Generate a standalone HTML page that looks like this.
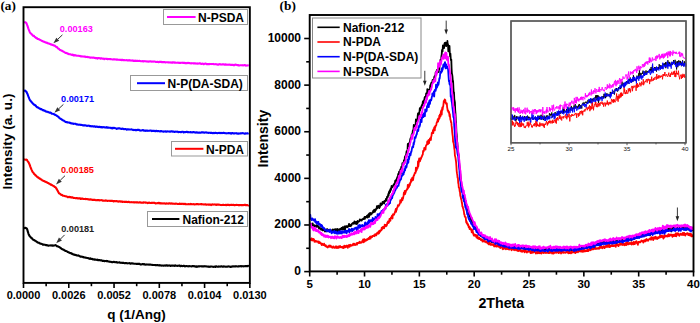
<!DOCTYPE html>
<html><head><meta charset="utf-8"><style>
html,body{margin:0;padding:0;background:#fff;width:700px;height:323px;overflow:hidden}
svg{display:block}
text{font-family:"Liberation Sans",sans-serif}
.serif{font-family:"Liberation Serif",serif}
</style></head><body>
<svg width="700" height="323" viewBox="0 0 700 323">
<defs><clipPath id="clipb"><rect x="310" y="15" width="383.5" height="256.4"/></clipPath></defs>
<rect width="700" height="323" fill="#fff"/>
<text x="0.4" y="10.3" class="serif" font-weight="bold" font-size="13.2">(a)</text>
<polyline points="23.9,22.1 24.3,22.3 24.7,22.3 25.1,22.2 25.5,22.3 25.9,22.7 26.3,23.1 26.7,23.8 27.1,24.9 27.5,25.9 27.9,27.1 28.3,28.3 28.7,29.4 29.1,30.4 29.5,31.4 29.9,32.3 30.3,32.9 30.7,33.3 31.1,33.6 31.5,34.0 31.9,34.5 32.3,34.9 32.7,35.4 33.1,35.9 33.5,35.8 33.9,35.7 34.3,36.3 34.7,36.8 35.1,37.1 35.5,37.4 35.9,37.9 36.3,38.0 36.7,37.9 37.1,38.5 37.5,38.9 37.9,39.0 38.3,39.0 38.7,39.0 39.1,39.3 39.5,39.7 39.9,39.8 40.3,39.9 40.7,40.2 41.1,40.4 41.5,40.6 41.9,40.9 42.3,41.0 42.7,41.2 43.1,41.4 43.5,41.7 43.9,41.8 44.3,41.8 44.7,42.0 45.1,42.2 45.5,42.4 45.9,42.5 46.3,42.7 46.7,42.9 47.1,42.8 47.5,43.0 47.9,43.3 48.3,43.5 48.7,43.5 49.1,43.5 49.5,43.8 49.9,44.0 50.3,44.1 50.7,44.4 51.1,44.3 51.5,44.4 51.9,44.9 52.3,44.9 52.7,44.8 53.1,45.1 53.5,45.4 53.9,45.6 54.3,45.7 54.7,45.6 55.1,45.9 55.5,46.3 55.9,46.6 56.3,47.0 56.7,47.0 57.1,47.2 57.5,47.8 57.9,48.3 58.3,48.5 58.7,48.7 59.1,49.1 59.5,49.5 59.9,49.8 60.3,50.1 60.7,50.2 61.1,50.4 61.5,50.7 61.9,50.7 62.3,50.8 62.7,51.3 63.1,51.3 63.5,51.6 63.9,51.9 64.3,52.1 64.7,52.4 65.1,52.6 65.5,52.9 65.9,53.0 66.3,53.0 66.7,52.9 67.1,53.4 67.5,53.7 67.9,53.6 68.3,53.8 68.7,54.0 69.1,54.2 69.5,54.3 69.9,54.3 70.3,54.3 70.7,54.5 71.1,54.6 71.5,54.7 71.9,55.0 72.3,54.9 72.7,54.5 73.1,54.8 73.5,55.5 73.9,55.4 74.3,55.0 74.7,55.3 75.1,55.4 75.5,55.3 75.9,55.5 76.3,55.6 76.7,55.7 77.1,55.7 77.5,55.8 77.9,55.7 78.3,55.8 78.7,55.8 79.1,55.9 79.5,56.0 79.9,55.9 80.3,56.2 80.7,56.4 81.1,56.3 81.5,56.4 81.9,56.4 82.3,56.4 82.7,56.5 83.1,56.6 83.5,56.5 83.9,56.6 84.3,56.7 84.7,56.6 85.1,56.6 85.5,56.7 85.9,57.1 86.3,57.0 86.7,56.9 87.1,56.8 87.5,56.9 87.9,57.3 88.3,57.3 88.7,57.1 89.1,57.2 89.5,57.4 89.9,57.5 90.3,57.7 90.7,57.7 91.1,57.5 91.5,57.5 91.9,57.6 92.3,57.6 92.7,57.7 93.1,57.7 93.5,57.6 93.9,57.7 94.3,57.9 94.7,57.7 95.1,57.9 95.5,58.2 95.9,58.2 96.3,58.1 96.7,58.0 97.1,58.3 97.5,58.6 97.9,58.2 98.3,58.0 98.7,58.2 99.1,58.1 99.5,58.2 99.9,58.3 100.3,58.5 100.7,58.7 101.1,58.3 101.5,58.2 101.9,58.4 102.3,58.5 102.7,58.8 103.1,58.7 103.5,58.6 103.9,58.8 104.3,59.2 104.7,58.9 105.1,58.7 105.5,58.8 105.9,58.8 106.3,58.8 106.7,59.0 107.1,59.1 107.5,58.9 107.9,59.1 108.3,59.1 108.7,59.0 109.1,59.0 109.5,59.1 109.9,59.1 110.3,59.0 110.7,59.2 111.1,59.2 111.5,59.3 111.9,59.3 112.3,59.4 112.7,59.5 113.1,59.4 113.5,59.4 113.9,59.4 114.3,59.3 114.7,59.5 115.1,59.5 115.5,59.4 115.9,59.6 116.3,59.7 116.7,59.7 117.1,59.4 117.5,59.6 117.9,59.8 118.3,59.7 118.7,59.7 119.1,59.9 119.5,59.7 119.9,59.8 120.3,59.9 120.7,60.0 121.1,59.8 121.5,60.0 121.9,60.2 122.3,59.8 122.7,60.0 123.1,60.1 123.5,60.1 123.9,60.2 124.3,60.1 124.7,60.2 125.1,60.2 125.5,60.2 125.9,60.3 126.3,60.1 126.7,60.2 127.1,60.4 127.5,60.4 127.9,60.3 128.3,60.4 128.7,60.3 129.1,60.1 129.5,60.4 129.9,60.4 130.3,60.4 130.7,60.6 131.1,60.7 131.5,60.6 131.9,60.5 132.3,60.6 132.7,60.4 133.1,60.8 133.5,61.0 133.9,60.6 134.3,60.8 134.7,60.9 135.1,60.6 135.5,60.7 135.9,61.0 136.3,60.9 136.7,60.8 137.1,60.9 137.5,60.9 137.9,60.9 138.3,61.0 138.7,60.9 139.1,60.8 139.5,60.8 139.9,60.9 140.3,61.1 140.7,61.2 141.1,61.2 141.5,61.2 141.9,61.2 142.3,61.1 142.7,61.2 143.1,61.5 143.5,61.4 143.9,61.1 144.3,61.2 144.7,61.2 145.1,61.2 145.5,61.3 145.9,61.3 146.3,61.5 146.7,61.5 147.1,61.4 147.5,61.6 147.9,61.5 148.3,61.6 148.7,61.6 149.1,61.3 149.5,61.4 149.9,61.5 150.3,61.4 150.7,61.4 151.1,61.4 151.5,61.6 151.9,61.8 152.3,61.6 152.7,61.5 153.1,61.5 153.5,61.6 153.9,61.6 154.3,61.5 154.7,61.6 155.1,61.7 155.5,61.8 155.9,62.0 156.3,62.0 156.7,61.9 157.1,61.8 157.5,61.8 157.9,62.0 158.3,62.0 158.7,62.2 159.1,61.9 159.5,61.7 159.9,61.9 160.3,61.9 160.7,61.9 161.1,61.8 161.5,62.0 161.9,62.2 162.3,62.2 162.7,62.0 163.1,62.0 163.5,62.2 163.9,62.2 164.3,62.0 164.7,62.1 165.1,62.3 165.5,62.4 165.9,62.3 166.3,62.3 166.7,62.2 167.1,62.2 167.5,62.3 167.9,62.3 168.3,62.5 168.7,62.4 169.1,62.3 169.5,62.4 169.9,62.5 170.3,62.6 170.7,62.4 171.1,62.4 171.5,62.6 171.9,62.8 172.3,62.5 172.7,62.3 173.1,62.6 173.5,62.5 173.9,62.3 174.3,62.5 174.7,62.8 175.1,62.6 175.5,62.6 175.9,62.7 176.3,62.8 176.7,62.8 177.1,62.8 177.5,62.7 177.9,62.6 178.3,62.7 178.7,62.9 179.1,62.9 179.5,62.8 179.9,62.8 180.3,63.0 180.7,62.9 181.1,62.8 181.5,62.8 181.9,62.7 182.3,62.7 182.7,62.9 183.1,62.8 183.5,62.9 183.9,62.9 184.3,62.7 184.7,62.9 185.1,63.2 185.5,63.0 185.9,62.9 186.3,63.2 186.7,63.2 187.1,63.2 187.5,63.1 187.9,62.7 188.3,62.9 188.7,63.1 189.1,63.0 189.5,63.0 189.9,63.2 190.3,63.4 190.7,63.2 191.1,63.2 191.5,63.4 191.9,63.3 192.3,63.3 192.7,63.3 193.1,63.3 193.5,63.4 193.9,63.3 194.3,63.4 194.7,63.4 195.1,63.3 195.5,63.5 195.9,63.6 196.3,63.5 196.7,63.6 197.1,63.7 197.5,63.5 197.9,63.4 198.3,63.5 198.7,63.6 199.1,63.4 199.5,63.3 199.9,63.4 200.3,63.4 200.7,63.6 201.1,63.9 201.5,63.9 201.9,63.8 202.3,63.7 202.7,63.6 203.1,63.8 203.5,64.1 203.9,64.1 204.3,63.8 204.7,63.7 205.1,63.7 205.5,63.6 205.9,63.7 206.3,63.8 206.7,64.1 207.1,64.1 207.5,64.0 207.9,64.2 208.3,64.1 208.7,64.1 209.1,64.2 209.5,64.0 209.9,63.9 210.3,64.0 210.7,64.0 211.1,64.0 211.5,64.0 211.9,64.1 212.3,64.0 212.7,64.0 213.1,63.9 213.5,64.0 213.9,64.2 214.3,64.2 214.7,64.2 215.1,64.3 215.5,64.2 215.9,64.1 216.3,64.3 216.7,64.4 217.1,64.4 217.5,64.6 217.9,64.6 218.3,64.4 218.7,64.6 219.1,64.5 219.5,64.2 219.9,64.1 220.3,64.3 220.7,64.5 221.1,64.6 221.5,64.5 221.9,64.4 222.3,64.5 222.7,64.3 223.1,64.3 223.5,64.5 223.9,64.4 224.3,64.6 224.7,64.6 225.1,64.3 225.5,64.3 225.9,64.6 226.3,64.6 226.7,64.6 227.1,64.8 227.5,64.8 227.9,64.6 228.3,64.5 228.7,64.8 229.1,64.8 229.5,64.5 229.9,64.6 230.3,64.8 230.7,64.9 231.1,64.9 231.5,64.8 231.9,64.8 232.3,65.0 232.7,64.7 233.1,64.9 233.5,65.3 233.9,65.1 234.3,64.8 234.7,65.1 235.1,64.9 235.5,64.6 235.9,64.6 236.3,64.8 236.7,64.9 237.1,65.0 237.5,65.2 237.9,65.0 238.3,65.0 238.7,65.4 239.1,65.5 239.5,65.4 239.9,65.3 240.3,65.3 240.7,65.2 241.1,65.2 241.5,65.3 241.9,65.3 242.3,65.4 242.7,65.2 243.1,65.2 243.5,65.4 243.9,65.3 244.3,65.1 244.7,65.2 245.1,65.1 245.5,65.3 245.9,65.6 246.3,65.6 246.7,65.5 247.1,65.4 247.5,65.5 247.9,65.4 248.3,65.5 248.7,65.7" fill="none" stroke="#ff00ff" stroke-width="2.1" stroke-linejoin="round" />
<polyline points="23.9,90.8 24.3,90.8 24.7,90.7 25.1,90.6 25.5,90.9 25.9,91.5 26.3,91.7 26.7,92.3 27.1,93.2 27.5,94.0 27.9,95.1 28.3,96.2 28.7,97.2 29.1,98.1 29.5,99.1 29.9,100.0 30.3,100.6 30.7,101.0 31.1,101.5 31.5,101.9 31.9,102.4 32.3,103.0 32.7,103.3 33.1,103.8 33.5,104.0 33.9,104.4 34.3,105.1 34.7,105.2 35.1,105.1 35.5,105.4 35.9,106.0 36.3,106.5 36.7,106.8 37.1,107.2 37.5,107.3 37.9,107.5 38.3,107.7 38.7,108.0 39.1,108.2 39.5,108.2 39.9,108.6 40.3,109.1 40.7,109.1 41.1,109.0 41.5,109.2 41.9,109.6 42.3,109.8 42.7,110.1 43.1,110.0 43.5,110.2 43.9,110.7 44.3,110.5 44.7,110.6 45.1,111.0 45.5,111.2 45.9,111.3 46.3,111.7 46.7,111.8 47.1,111.7 47.5,111.7 47.9,112.0 48.3,112.2 48.7,112.3 49.1,112.4 49.5,112.7 49.9,112.7 50.3,112.6 50.7,112.6 51.1,113.1 51.5,113.5 51.9,113.7 52.3,113.8 52.7,113.7 53.1,113.9 53.5,114.1 53.9,114.1 54.3,114.2 54.7,114.7 55.1,115.0 55.5,115.1 55.9,115.2 56.3,115.4 56.7,115.7 57.1,116.1 57.5,116.2 57.9,116.5 58.3,116.8 58.7,117.1 59.1,117.7 59.5,117.9 59.9,118.3 60.3,118.6 60.7,118.8 61.1,119.1 61.5,119.3 61.9,119.7 62.3,120.0 62.7,120.2 63.1,120.4 63.5,120.6 63.9,120.7 64.3,121.0 64.7,121.4 65.1,121.6 65.5,121.8 65.9,122.1 66.3,122.2 66.7,122.0 67.1,122.3 67.5,122.4 67.9,122.4 68.3,122.5 68.7,122.5 69.1,122.5 69.5,122.7 69.9,123.0 70.3,122.9 70.7,123.2 71.1,123.5 71.5,123.4 71.9,123.3 72.3,123.4 72.7,123.5 73.1,123.7 73.5,123.9 73.9,123.8 74.3,123.7 74.7,123.8 75.1,123.8 75.5,123.8 75.9,124.0 76.3,124.3 76.7,124.5 77.1,124.4 77.5,124.4 77.9,124.5 78.3,124.7 78.7,124.8 79.1,124.7 79.5,124.7 79.9,124.6 80.3,124.8 80.7,124.9 81.1,124.9 81.5,124.9 81.9,125.0 82.3,125.1 82.7,125.3 83.1,125.4 83.5,125.4 83.9,125.3 84.3,125.3 84.7,125.4 85.1,125.3 85.5,125.5 85.9,125.5 86.3,125.6 86.7,125.8 87.1,125.9 87.5,125.8 87.9,125.7 88.3,125.6 88.7,125.8 89.1,125.7 89.5,125.8 89.9,126.1 90.3,126.0 90.7,126.2 91.1,126.4 91.5,126.3 91.9,126.2 92.3,126.2 92.7,126.4 93.1,126.3 93.5,126.4 93.9,126.6 94.3,126.3 94.7,126.3 95.1,126.4 95.5,126.6 95.9,126.9 96.3,126.7 96.7,126.5 97.1,126.7 97.5,126.8 97.9,127.0 98.3,127.1 98.7,126.9 99.1,127.0 99.5,126.8 99.9,126.8 100.3,127.2 100.7,127.1 101.1,127.0 101.5,127.1 101.9,127.4 102.3,127.4 102.7,127.1 103.1,127.3 103.5,127.2 103.9,127.1 104.3,127.3 104.7,127.4 105.1,127.4 105.5,127.5 105.9,127.6 106.3,127.3 106.7,127.1 107.1,127.3 107.5,127.7 107.9,127.8 108.3,127.6 108.7,127.6 109.1,127.7 109.5,127.8 109.9,127.8 110.3,127.7 110.7,127.8 111.1,128.1 111.5,127.9 111.9,128.0 112.3,128.3 112.7,128.0 113.1,127.7 113.5,127.9 113.9,128.2 114.3,128.1 114.7,127.9 115.1,128.1 115.5,128.3 115.9,128.2 116.3,128.6 116.7,128.9 117.1,128.7 117.5,128.5 117.9,128.5 118.3,128.3 118.7,128.3 119.1,128.5 119.5,128.4 119.9,128.4 120.3,128.6 120.7,128.8 121.1,128.8 121.5,129.0 121.9,128.9 122.3,128.7 122.7,128.6 123.1,128.8 123.5,129.1 123.9,129.2 124.3,129.2 124.7,129.1 125.1,129.0 125.5,129.1 125.9,129.1 126.3,129.4 126.7,129.7 127.1,129.4 127.5,129.3 127.9,129.4 128.3,129.3 128.7,129.4 129.1,129.5 129.5,129.4 129.9,129.5 130.3,129.5 130.7,129.5 131.1,129.4 131.5,129.4 131.9,129.6 132.3,129.7 132.7,129.8 133.1,130.0 133.5,130.1 133.9,129.9 134.3,130.0 134.7,129.9 135.1,130.0 135.5,130.2 135.9,129.9 136.3,130.0 136.7,130.2 137.1,129.9 137.5,129.7 137.9,130.0 138.3,129.9 138.7,129.8 139.1,130.0 139.5,130.2 139.9,130.3 140.3,130.6 140.7,130.5 141.1,130.4 141.5,130.5 141.9,130.4 142.3,130.3 142.7,130.0 143.1,130.1 143.5,130.4 143.9,130.7 144.3,130.7 144.7,130.6 145.1,130.5 145.5,130.6 145.9,130.9 146.3,130.7 146.7,130.5 147.1,130.5 147.5,130.7 147.9,130.9 148.3,130.7 148.7,130.7 149.1,130.8 149.5,130.7 149.9,130.6 150.3,130.5 150.7,130.5 151.1,130.7 151.5,131.1 151.9,130.9 152.3,130.7 152.7,131.0 153.1,130.8 153.5,130.8 153.9,130.8 154.3,131.0 154.7,131.1 155.1,130.9 155.5,131.1 155.9,131.1 156.3,130.8 156.7,130.8 157.1,131.1 157.5,131.2 157.9,131.1 158.3,131.0 158.7,131.0 159.1,131.3 159.5,131.3 159.9,131.4 160.3,131.4 160.7,131.1 161.1,131.0 161.5,131.2 161.9,131.4 162.3,131.4 162.7,131.5 163.1,131.6 163.5,131.7 163.9,131.5 164.3,131.4 164.7,131.5 165.1,131.4 165.5,131.4 165.9,131.7 166.3,131.7 166.7,131.5 167.1,131.5 167.5,131.4 167.9,131.4 168.3,131.5 168.7,131.5 169.1,131.5 169.5,131.5 169.9,131.7 170.3,131.6 170.7,131.6 171.1,131.5 171.5,131.2 171.9,131.4 172.3,131.6 172.7,131.7 173.1,131.5 173.5,131.5 173.9,131.7 174.3,131.9 174.7,131.9 175.1,131.8 175.5,131.7 175.9,131.6 176.3,131.7 176.7,131.8 177.1,131.8 177.5,131.6 177.9,131.8 178.3,132.1 178.7,132.1 179.1,132.0 179.5,131.9 179.9,132.0 180.3,132.1 180.7,132.2 181.1,132.2 181.5,131.9 181.9,131.8 182.3,131.8 182.7,131.7 183.1,132.0 183.5,132.3 183.9,132.0 184.3,132.1 184.7,132.3 185.1,132.0 185.5,132.0 185.9,132.1 186.3,132.0 186.7,131.8 187.1,131.9 187.5,132.2 187.9,131.9 188.3,132.0 188.7,132.3 189.1,132.2 189.5,132.2 189.9,132.2 190.3,132.1 190.7,132.1 191.1,132.4 191.5,132.3 191.9,132.2 192.3,132.4 192.7,132.3 193.1,132.2 193.5,132.1 193.9,132.1 194.3,132.3 194.7,132.4 195.1,132.3 195.5,132.6 195.9,132.7 196.3,132.4 196.7,132.4 197.1,132.4 197.5,132.6 197.9,132.6 198.3,132.6 198.7,132.8 199.1,132.5 199.5,132.5 199.9,132.6 200.3,132.8 200.7,132.8 201.1,132.4 201.5,132.3 201.9,132.2 202.3,132.4 202.7,132.4 203.1,132.4 203.5,132.4 203.9,132.5 204.3,132.8 204.7,132.6 205.1,132.4 205.5,132.5 205.9,132.4 206.3,132.4 206.7,132.5 207.1,132.7 207.5,132.8 207.9,132.7 208.3,132.8 208.7,132.9 209.1,132.8 209.5,132.8 209.9,132.8 210.3,132.8 210.7,133.0 211.1,132.8 211.5,132.7 211.9,132.9 212.3,133.1 212.7,133.2 213.1,133.2 213.5,132.9 213.9,133.0 214.3,132.9 214.7,133.1 215.1,132.9 215.5,132.8 215.9,133.0 216.3,133.0 216.7,133.1 217.1,133.2 217.5,133.2 217.9,133.1 218.3,133.0 218.7,132.9 219.1,132.8 219.5,132.9 219.9,133.1 220.3,133.1 220.7,132.9 221.1,133.0 221.5,133.1 221.9,132.9 222.3,133.0 222.7,133.1 223.1,132.9 223.5,132.7 223.9,133.0 224.3,133.1 224.7,133.0 225.1,133.0 225.5,133.3 225.9,133.3 226.3,133.2 226.7,133.4 227.1,133.2 227.5,133.2 227.9,133.2 228.3,133.1 228.7,133.0 229.1,133.2 229.5,133.3 229.9,133.1 230.3,133.1 230.7,133.3 231.1,133.6 231.5,133.3 231.9,133.2 232.3,133.0 232.7,133.2 233.1,133.4 233.5,133.2 233.9,133.3 234.3,133.5 234.7,133.3 235.1,133.2 235.5,133.2 235.9,133.3 236.3,133.4 236.7,133.2 237.1,133.4 237.5,133.6 237.9,133.6 238.3,133.7 238.7,133.5 239.1,133.4 239.5,133.5 239.9,133.6 240.3,133.5 240.7,133.3 241.1,133.4 241.5,133.3 241.9,133.3 242.3,133.1 242.7,133.2 243.1,133.3 243.5,133.3 243.9,133.4 244.3,133.5 244.7,133.7 245.1,133.7 245.5,133.3 245.9,133.3 246.3,133.4 246.7,133.5 247.1,133.5 247.5,133.3 247.9,133.4 248.3,133.4 248.7,133.2" fill="none" stroke="#0000ff" stroke-width="2.1" stroke-linejoin="round" />
<polyline points="23.9,159.9 24.3,159.6 24.7,159.5 25.1,159.7 25.5,159.7 25.9,159.8 26.3,159.6 26.7,159.7 27.1,160.1 27.5,160.9 27.9,161.6 28.3,161.9 28.7,162.6 29.1,163.5 29.5,164.3 29.9,165.4 30.3,166.6 30.7,167.6 31.1,168.6 31.5,169.6 31.9,170.4 32.3,171.4 32.7,172.1 33.1,172.4 33.5,172.9 33.9,173.5 34.3,174.2 34.7,174.5 35.1,174.7 35.5,175.3 35.9,175.6 36.3,175.8 36.7,176.4 37.1,176.9 37.5,177.1 37.9,177.5 38.3,177.4 38.7,177.8 39.1,178.3 39.5,178.2 39.9,178.6 40.3,179.2 40.7,179.3 41.1,179.3 41.5,179.6 41.9,180.0 42.3,180.3 42.7,180.6 43.1,180.7 43.5,181.0 43.9,181.1 44.3,181.1 44.7,181.4 45.1,181.7 45.5,181.9 45.9,181.9 46.3,182.2 46.7,182.2 47.1,182.4 47.5,183.0 47.9,183.0 48.3,183.1 48.7,183.4 49.1,183.7 49.5,183.8 49.9,183.8 50.3,184.3 50.7,184.7 51.1,184.6 51.5,184.6 51.9,185.1 52.3,185.3 52.7,185.6 53.1,185.8 53.5,185.9 53.9,186.2 54.3,186.6 54.7,187.0 55.1,187.1 55.5,187.2 55.9,187.8 56.3,188.5 56.7,189.0 57.1,189.8 57.5,190.6 57.9,191.3 58.3,192.0 58.7,192.7 59.1,193.4 59.5,193.6 59.9,193.7 60.3,194.1 60.7,194.5 61.1,194.8 61.5,194.9 61.9,194.8 62.3,195.1 62.7,195.6 63.1,195.8 63.5,195.8 63.9,195.8 64.3,195.9 64.7,196.1 65.1,196.2 65.5,196.3 65.9,196.3 66.3,196.5 66.7,196.6 67.1,196.7 67.5,197.0 67.9,197.3 68.3,197.2 68.7,196.9 69.1,196.8 69.5,197.0 69.9,197.2 70.3,197.0 70.7,197.2 71.1,197.6 71.5,197.4 71.9,197.2 72.3,197.3 72.7,197.5 73.1,197.7 73.5,198.0 73.9,198.0 74.3,197.9 74.7,198.0 75.1,198.1 75.5,198.2 75.9,198.3 76.3,198.1 76.7,198.0 77.1,198.1 77.5,198.3 77.9,198.5 78.3,198.4 78.7,198.3 79.1,198.4 79.5,198.4 79.9,198.3 80.3,198.5 80.7,198.9 81.1,198.9 81.5,198.6 81.9,198.5 82.3,198.5 82.7,198.7 83.1,199.0 83.5,199.0 83.9,198.9 84.3,199.0 84.7,199.0 85.1,198.9 85.5,198.8 85.9,199.1 86.3,199.1 86.7,199.0 87.1,199.1 87.5,199.1 87.9,199.3 88.3,199.4 88.7,199.3 89.1,199.4 89.5,199.6 89.9,199.7 90.3,199.4 90.7,199.4 91.1,199.6 91.5,199.5 91.9,199.7 92.3,199.9 92.7,199.9 93.1,199.8 93.5,199.9 93.9,199.9 94.3,199.8 94.7,199.9 95.1,199.9 95.5,200.1 95.9,200.3 96.3,200.3 96.7,200.2 97.1,200.0 97.5,200.0 97.9,200.2 98.3,200.1 98.7,200.1 99.1,200.2 99.5,200.4 99.9,200.3 100.3,200.3 100.7,200.3 101.1,200.1 101.5,200.2 101.9,200.2 102.3,200.3 102.7,200.6 103.1,200.6 103.5,200.6 103.9,200.8 104.3,200.8 104.7,200.6 105.1,200.6 105.5,200.4 105.9,200.6 106.3,200.6 106.7,200.6 107.1,200.8 107.5,200.9 107.9,200.9 108.3,200.7 108.7,200.8 109.1,200.8 109.5,200.8 109.9,200.9 110.3,200.9 110.7,200.9 111.1,200.9 111.5,200.9 111.9,200.8 112.3,200.8 112.7,200.9 113.1,201.1 113.5,201.4 113.9,201.1 114.3,201.0 114.7,201.2 115.1,201.1 115.5,201.2 115.9,201.3 116.3,201.0 116.7,201.1 117.1,201.3 117.5,201.4 117.9,201.3 118.3,201.3 118.7,201.6 119.1,201.4 119.5,201.3 119.9,201.4 120.3,201.4 120.7,201.7 121.1,201.8 121.5,201.5 121.9,201.4 122.3,201.5 122.7,201.9 123.1,201.9 123.5,201.7 123.9,201.8 124.3,201.8 124.7,202.0 125.1,202.0 125.5,201.8 125.9,201.9 126.3,201.9 126.7,201.8 127.1,201.9 127.5,202.1 127.9,201.9 128.3,201.8 128.7,201.8 129.1,202.0 129.5,202.2 129.9,202.2 130.3,202.2 130.7,202.3 131.1,202.1 131.5,202.2 131.9,202.3 132.3,202.2 132.7,202.2 133.1,202.4 133.5,202.3 133.9,202.2 134.3,202.3 134.7,202.5 135.1,202.4 135.5,202.2 135.9,202.3 136.3,202.4 136.7,202.3 137.1,202.2 137.5,202.5 137.9,202.4 138.3,202.5 138.7,202.6 139.1,202.4 139.5,202.4 139.9,202.3 140.3,202.2 140.7,202.6 141.1,202.6 141.5,202.6 141.9,202.8 142.3,202.7 142.7,202.7 143.1,202.4 143.5,202.3 143.9,202.6 144.3,202.5 144.7,202.4 145.1,202.6 145.5,202.7 145.9,202.5 146.3,202.5 146.7,202.8 147.1,202.8 147.5,202.8 147.9,203.1 148.3,203.0 148.7,202.7 149.1,202.6 149.5,202.7 149.9,203.0 150.3,203.0 150.7,203.0 151.1,202.9 151.5,202.9 151.9,202.9 152.3,202.9 152.7,202.8 153.1,202.7 153.5,202.8 153.9,202.9 154.3,202.8 154.7,203.0 155.1,203.1 155.5,203.4 155.9,203.5 156.3,203.2 156.7,203.2 157.1,203.3 157.5,203.1 157.9,203.2 158.3,203.2 158.7,202.8 159.1,203.0 159.5,203.3 159.9,203.4 160.3,203.4 160.7,203.1 161.1,203.3 161.5,203.4 161.9,203.2 162.3,203.5 162.7,203.5 163.1,203.4 163.5,203.4 163.9,203.5 164.3,203.4 164.7,203.4 165.1,203.6 165.5,203.8 165.9,203.7 166.3,203.3 166.7,203.4 167.1,203.5 167.5,203.5 167.9,203.5 168.3,203.7 168.7,203.6 169.1,203.4 169.5,203.2 169.9,203.2 170.3,203.6 170.7,203.7 171.1,203.4 171.5,203.4 171.9,203.5 172.3,203.7 172.7,203.5 173.1,203.6 173.5,203.8 173.9,203.8 174.3,203.7 174.7,203.8 175.1,203.9 175.5,203.7 175.9,203.6 176.3,203.6 176.7,203.8 177.1,203.8 177.5,203.9 177.9,204.0 178.3,204.0 178.7,204.0 179.1,203.9 179.5,203.6 179.9,203.6 180.3,204.0 180.7,204.0 181.1,203.9 181.5,203.9 181.9,203.8 182.3,203.7 182.7,203.9 183.1,204.1 183.5,203.9 183.9,203.7 184.3,203.8 184.7,204.1 185.1,204.2 185.5,203.9 185.9,204.1 186.3,204.3 186.7,204.3 187.1,204.2 187.5,204.2 187.9,204.2 188.3,204.2 188.7,204.1 189.1,204.1 189.5,204.3 189.9,204.3 190.3,204.1 190.7,203.9 191.1,204.3 191.5,204.2 191.9,204.1 192.3,204.3 192.7,204.3 193.1,204.2 193.5,204.1 193.9,204.3 194.3,204.4 194.7,204.4 195.1,204.2 195.5,204.2 195.9,204.4 196.3,204.2 196.7,204.0 197.1,204.1 197.5,204.2 197.9,204.1 198.3,204.2 198.7,204.4 199.1,204.2 199.5,204.3 199.9,204.2 200.3,204.2 200.7,204.2 201.1,204.0 201.5,204.3 201.9,204.4 202.3,204.2 202.7,204.2 203.1,204.4 203.5,204.5 203.9,204.4 204.3,204.5 204.7,204.5 205.1,204.3 205.5,204.3 205.9,204.5 206.3,204.7 206.7,204.7 207.1,204.6 207.5,204.5 207.9,204.6 208.3,204.6 208.7,204.6 209.1,204.7 209.5,204.5 209.9,204.5 210.3,204.5 210.7,204.7 211.1,205.1 211.5,204.9 211.9,204.6 212.3,204.3 212.7,204.4 213.1,204.6 213.5,204.5 213.9,204.6 214.3,204.5 214.7,204.4 215.1,204.6 215.5,204.5 215.9,204.6 216.3,204.9 216.7,204.6 217.1,204.4 217.5,204.6 217.9,204.8 218.3,204.6 218.7,204.5 219.1,204.7 219.5,204.7 219.9,204.8 220.3,204.9 220.7,205.0 221.1,205.1 221.5,205.0 221.9,205.0 222.3,205.0 222.7,205.0 223.1,204.7 223.5,204.8 223.9,204.9 224.3,205.0 224.7,205.0 225.1,204.9 225.5,204.9 225.9,205.1 226.3,205.1 226.7,204.8 227.1,204.9 227.5,204.8 227.9,204.8 228.3,204.9 228.7,204.9 229.1,205.1 229.5,205.1 229.9,204.9 230.3,204.9 230.7,205.0 231.1,204.9 231.5,204.7 231.9,204.8 232.3,205.0 232.7,205.0 233.1,204.9 233.5,204.8 233.9,204.9 234.3,205.2 234.7,205.2 235.1,205.0 235.5,205.0 235.9,204.9 236.3,204.8 236.7,204.9 237.1,205.0 237.5,205.0 237.9,204.9 238.3,205.0 238.7,205.3 239.1,205.2 239.5,205.0 239.9,205.1 240.3,205.1 240.7,205.0 241.1,205.0 241.5,205.2 241.9,205.1 242.3,205.2 242.7,205.0 243.1,205.0 243.5,205.1 243.9,205.1 244.3,204.9 244.7,205.0 245.1,204.8 245.5,205.0 245.9,205.3 246.3,205.1 246.7,205.2 247.1,205.1 247.5,205.0 247.9,205.3 248.3,205.4 248.7,205.0" fill="none" stroke="#ff0000" stroke-width="2.1" stroke-linejoin="round" />
<polyline points="23.7,227.8 24.1,227.8 24.5,228.1 24.9,228.2 25.3,227.9 25.7,227.9 26.1,228.1 26.5,228.3 26.9,228.7 27.3,229.7 27.7,231.1 28.1,232.5 28.5,233.8 28.9,234.8 29.3,235.4 29.7,236.2 30.1,236.6 30.5,237.0 30.9,237.6 31.3,237.8 31.7,238.1 32.1,238.5 32.5,239.0 32.9,239.4 33.3,239.8 33.7,239.9 34.1,240.0 34.5,240.4 34.9,240.7 35.3,240.8 35.7,240.9 36.1,241.4 36.5,241.5 36.9,241.8 37.3,242.2 37.7,242.4 38.1,242.7 38.5,242.7 38.9,242.7 39.3,243.0 39.7,243.4 40.1,243.6 40.5,243.6 40.9,243.6 41.3,243.8 41.7,243.9 42.1,244.1 42.5,244.3 42.9,244.7 43.3,244.7 43.7,244.5 44.1,244.7 44.5,244.7 44.9,244.7 45.3,244.9 45.7,245.1 46.1,245.0 46.5,245.2 46.9,245.4 47.3,245.3 47.7,245.5 48.1,245.6 48.5,245.6 48.9,245.6 49.3,245.5 49.7,245.5 50.1,245.4 50.5,245.5 50.9,245.5 51.3,245.3 51.7,245.6 52.1,245.7 52.5,245.4 52.9,245.6 53.3,245.7 53.7,245.6 54.1,245.5 54.5,245.4 54.9,245.3 55.3,245.1 55.7,245.2 56.1,245.5 56.5,245.8 56.9,246.2 57.3,246.2 57.7,246.3 58.1,246.6 58.5,246.7 58.9,246.9 59.3,247.0 59.7,247.3 60.1,247.6 60.5,247.9 60.9,248.2 61.3,248.6 61.7,248.9 62.1,249.0 62.5,249.3 62.9,249.5 63.3,249.6 63.7,249.8 64.1,250.0 64.5,250.3 64.9,250.6 65.3,250.8 65.7,251.0 66.1,251.1 66.5,251.2 66.9,251.4 67.3,251.6 67.7,252.0 68.1,252.1 68.5,252.3 68.9,252.5 69.3,252.6 69.7,252.9 70.1,253.1 70.5,253.0 70.9,253.2 71.3,253.2 71.7,253.5 72.1,253.9 72.5,253.8 72.9,254.2 73.3,254.6 73.7,254.5 74.1,254.5 74.5,254.7 74.9,255.0 75.3,255.0 75.7,254.9 76.1,255.2 76.5,255.4 76.9,255.4 77.3,255.6 77.7,255.5 78.1,255.5 78.5,255.4 78.9,255.6 79.3,256.2 79.7,256.2 80.1,256.3 80.5,256.6 80.9,256.6 81.3,256.6 81.7,256.7 82.1,256.7 82.5,256.8 82.9,257.0 83.3,257.2 83.7,257.4 84.1,257.3 84.5,257.4 84.9,257.5 85.3,257.5 85.7,257.7 86.1,257.8 86.5,257.8 86.9,257.9 87.3,258.0 87.7,258.0 88.1,258.1 88.5,258.4 88.9,258.5 89.3,258.6 89.7,258.8 90.1,258.3 90.5,258.3 90.9,258.9 91.3,259.0 91.7,258.9 92.1,258.8 92.5,259.1 92.9,259.4 93.3,259.4 93.7,259.4 94.1,259.6 94.5,259.7 94.9,259.4 95.3,259.5 95.7,259.7 96.1,259.7 96.5,259.8 96.9,259.9 97.3,259.6 97.7,259.8 98.1,260.3 98.5,260.2 98.9,260.1 99.3,260.2 99.7,260.1 100.1,260.2 100.5,260.4 100.9,260.4 101.3,260.4 101.7,260.4 102.1,260.7 102.5,261.0 102.9,260.9 103.3,260.8 103.7,260.7 104.1,260.9 104.5,261.2 104.9,261.0 105.3,261.0 105.7,261.0 106.1,260.9 106.5,261.2 106.9,261.2 107.3,261.0 107.7,261.2 108.1,261.5 108.5,261.5 108.9,261.6 109.3,261.6 109.7,261.7 110.1,261.9 110.5,261.7 110.9,261.8 111.3,261.9 111.7,262.1 112.1,262.3 112.5,262.2 112.9,262.0 113.3,261.9 113.7,261.8 114.1,262.0 114.5,262.1 114.9,262.1 115.3,262.2 115.7,262.3 116.1,262.2 116.5,262.0 116.9,262.3 117.3,262.6 117.7,262.4 118.1,262.5 118.5,262.5 118.9,262.4 119.3,262.3 119.7,262.5 120.1,262.7 120.5,262.7 120.9,262.9 121.3,262.8 121.7,262.7 122.1,262.9 122.5,262.9 122.9,262.8 123.3,262.8 123.7,263.0 124.1,263.1 124.5,263.2 124.9,263.2 125.3,263.1 125.7,263.1 126.1,263.0 126.5,263.1 126.9,263.3 127.3,263.4 127.7,263.2 128.1,263.2 128.5,263.3 128.9,263.2 129.3,263.2 129.7,263.1 130.1,263.5 130.5,263.7 130.9,263.5 131.3,263.4 131.7,263.2 132.1,263.3 132.5,263.5 132.9,263.6 133.3,263.5 133.7,263.5 134.1,263.8 134.5,263.7 134.9,263.7 135.3,263.7 135.7,263.7 136.1,263.8 136.5,264.0 136.9,263.9 137.3,263.8 137.7,264.0 138.1,263.9 138.5,263.8 138.9,263.9 139.3,263.8 139.7,264.0 140.1,264.2 140.5,264.5 140.9,264.6 141.3,264.4 141.7,264.3 142.1,264.1 142.5,264.2 142.9,264.0 143.3,264.2 143.7,264.4 144.1,264.1 144.5,264.2 144.9,264.4 145.3,264.7 145.7,264.6 146.1,264.5 146.5,264.6 146.9,264.4 147.3,264.5 147.7,264.6 148.1,264.5 148.5,264.6 148.9,264.6 149.3,264.6 149.7,264.6 150.1,264.5 150.5,264.6 150.9,264.8 151.3,264.8 151.7,264.7 152.1,265.0 152.5,265.0 152.9,264.9 153.3,265.0 153.7,265.0 154.1,265.0 154.5,265.0 154.9,265.1 155.3,265.2 155.7,265.0 156.1,265.2 156.5,265.3 156.9,265.1 157.3,265.1 157.7,265.1 158.1,265.2 158.5,265.3 158.9,265.4 159.3,265.3 159.7,265.1 160.1,265.4 160.5,265.5 160.9,265.4 161.3,265.6 161.7,265.6 162.1,265.5 162.5,265.5 162.9,265.6 163.3,265.8 163.7,265.5 164.1,265.5 164.5,265.4 164.9,265.5 165.3,265.7 165.7,265.6 166.1,265.5 166.5,265.3 166.9,265.5 167.3,265.7 167.7,265.6 168.1,265.7 168.5,265.6 168.9,265.5 169.3,265.5 169.7,265.4 170.1,265.8 170.5,265.9 170.9,265.6 171.3,265.8 171.7,265.5 172.1,265.4 172.5,265.8 172.9,265.7 173.3,265.7 173.7,265.6 174.1,265.6 174.5,265.9 174.9,265.7 175.3,265.4 175.7,265.7 176.1,265.8 176.5,265.8 176.9,265.8 177.3,265.9 177.7,265.8 178.1,265.7 178.5,265.8 178.9,265.5 179.3,265.4 179.7,265.8 180.1,266.0 180.5,266.2 180.9,266.0 181.3,265.8 181.7,266.0 182.1,266.0 182.5,266.1 182.9,266.1 183.3,266.0 183.7,265.7 184.1,265.7 184.5,266.2 184.9,266.4 185.3,266.3 185.7,266.2 186.1,266.0 186.5,266.0 186.9,266.1 187.3,266.2 187.7,266.2 188.1,266.4 188.5,266.3 188.9,266.2 189.3,266.1 189.7,266.2 190.1,266.3 190.5,266.2 190.9,266.2 191.3,266.4 191.7,266.4 192.1,266.2 192.5,266.1 192.9,266.2 193.3,266.2 193.7,266.1 194.1,266.2 194.5,266.4 194.9,266.3 195.3,266.3 195.7,266.6 196.1,266.4 196.5,266.3 196.9,266.8 197.3,266.5 197.7,266.4 198.1,266.3 198.5,266.3 198.9,266.4 199.3,266.4 199.7,266.3 200.1,266.2 200.5,266.3 200.9,266.3 201.3,266.3 201.7,266.4 202.1,266.3 202.5,266.3 202.9,266.5 203.3,266.3 203.7,266.2 204.1,266.4 204.5,266.3 204.9,266.2 205.3,266.2 205.7,266.3 206.1,266.5 206.5,266.4 206.9,266.5 207.3,266.5 207.7,266.5 208.1,266.7 208.5,266.5 208.9,266.5 209.3,266.9 209.7,266.7 210.1,266.6 210.5,266.6 210.9,266.6 211.3,266.5 211.7,266.5 212.1,266.6 212.5,266.8 212.9,266.7 213.3,266.8 213.7,266.9 214.1,266.8 214.5,266.6 214.9,266.7 215.3,267.0 215.7,266.5 216.1,266.2 216.5,266.4 216.9,266.6 217.3,266.8 217.7,266.7 218.1,266.6 218.5,266.7 218.9,266.5 219.3,266.5 219.7,266.6 220.1,266.6 220.5,266.6 220.9,266.5 221.3,266.3 221.7,266.5 222.1,266.6 222.5,266.6 222.9,266.7 223.3,266.7 223.7,266.4 224.1,266.4 224.5,266.5 224.9,266.5 225.3,266.7 225.7,266.8 226.1,266.7 226.5,266.7 226.9,266.6 227.3,266.6 227.7,266.6 228.1,266.5 228.5,266.4 228.9,266.4 229.3,266.5 229.7,266.5 230.1,266.8 230.5,267.0 230.9,266.9 231.3,266.6 231.7,266.6 232.1,266.6 232.5,266.4 232.9,266.4 233.3,266.4 233.7,266.4 234.1,266.5 234.5,266.5 234.9,266.3 235.3,266.5 235.7,266.4 236.1,266.2 236.5,266.2 236.9,266.4 237.3,266.5 237.7,266.5 238.1,266.4 238.5,266.2 238.9,266.4 239.3,266.3 239.7,266.2 240.1,266.2 240.5,266.1 240.9,266.3 241.3,266.4 241.7,266.1 242.1,266.1 242.5,266.3 242.9,266.2 243.3,266.4 243.7,266.3 244.1,266.1 244.5,266.3 244.9,266.3 245.3,266.1 245.7,266.1 246.1,266.2 246.5,266.0 246.9,266.2 247.3,266.3 247.7,265.9 248.1,265.8 248.5,266.2 248.9,266.5" fill="none" stroke="#000000" stroke-width="2.1" stroke-linejoin="round" />
<rect x="23.5" y="7.2" width="226.35" height="275.7" fill="none" stroke="#000" stroke-width="1.9"/>
<line x1="23.50" y1="282.9" x2="23.50" y2="288" stroke="#000" stroke-width="1.6"/>
<line x1="46.14" y1="282.9" x2="46.14" y2="286.2" stroke="#000" stroke-width="1.6"/>
<line x1="68.77" y1="282.9" x2="68.77" y2="288" stroke="#000" stroke-width="1.6"/>
<line x1="91.41" y1="282.9" x2="91.41" y2="286.2" stroke="#000" stroke-width="1.6"/>
<line x1="114.04" y1="282.9" x2="114.04" y2="288" stroke="#000" stroke-width="1.6"/>
<line x1="136.68" y1="282.9" x2="136.68" y2="286.2" stroke="#000" stroke-width="1.6"/>
<line x1="159.31" y1="282.9" x2="159.31" y2="288" stroke="#000" stroke-width="1.6"/>
<line x1="181.94" y1="282.9" x2="181.94" y2="286.2" stroke="#000" stroke-width="1.6"/>
<line x1="204.58" y1="282.9" x2="204.58" y2="288" stroke="#000" stroke-width="1.6"/>
<line x1="227.22" y1="282.9" x2="227.22" y2="286.2" stroke="#000" stroke-width="1.6"/>
<line x1="249.85" y1="282.9" x2="249.85" y2="288" stroke="#000" stroke-width="1.6"/>
<text x="23.50" y="299" text-anchor="middle" font-size="11" font-weight="bold">0.0000</text>
<text x="68.77" y="299" text-anchor="middle" font-size="11" font-weight="bold">0.0026</text>
<text x="114.04" y="299" text-anchor="middle" font-size="11" font-weight="bold">0.0052</text>
<text x="159.31" y="299" text-anchor="middle" font-size="11" font-weight="bold">0.0078</text>
<text x="204.58" y="299" text-anchor="middle" font-size="11" font-weight="bold">0.0104</text>
<text x="249.85" y="299" text-anchor="middle" font-size="11" font-weight="bold">0.0130</text>
<text x="136.5" y="319" text-anchor="middle" font-size="13.5" font-weight="bold">q (1/Ang)</text>
<text transform="translate(12.3,141.5) rotate(-90)" text-anchor="middle" font-size="13.6" font-weight="bold">Intensity (a. u.)</text>
<rect x="163.5" y="9.5" width="84.0" height="15.0" fill="#fff" stroke="#999" stroke-width="1"/>
<line x1="167" y1="17" x2="195.6" y2="17" stroke="#ff00ff" stroke-width="2"/>
<text x="198" y="21.8" font-size="12" font-weight="bold">N-PSDA</text>
<rect x="130.5" y="75.5" width="117.0" height="15.0" fill="#fff" stroke="#999" stroke-width="1"/>
<line x1="137" y1="83.2" x2="165" y2="83.2" stroke="#0000ff" stroke-width="2"/>
<text x="167.5" y="88.0" font-size="12" font-weight="bold">N-P(DA-SDA)</text>
<rect x="171.5" y="141.5" width="76.0" height="14.5" fill="#fff" stroke="#999" stroke-width="1"/>
<line x1="175" y1="148.8" x2="203.4" y2="148.8" stroke="#ff0000" stroke-width="2"/>
<text x="206" y="153.60000000000002" font-size="12" font-weight="bold">N-PDA</text>
<rect x="147.5" y="211.5" width="100.0" height="15.0" fill="#fff" stroke="#999" stroke-width="1"/>
<line x1="152" y1="219" x2="179.4" y2="219" stroke="#000000" stroke-width="2"/>
<text x="182.5" y="223.8" font-size="12" font-weight="bold">Nafion-212</text>
<text x="59.8" y="31.9" font-size="9.9" font-weight="bold" fill="#ff00ff" textLength="33" lengthAdjust="spacingAndGlyphs">0.00163</text>
<line x1="62.4" y1="34.9" x2="57.79" y2="39.21" stroke="#333" stroke-width="1.0"/>
<polygon points="53.4,43.3 56.35,37.67 59.22,40.74" fill="#333"/>
<text x="61.1" y="101.6" font-size="9.9" font-weight="bold" fill="#0000ff" textLength="33" lengthAdjust="spacingAndGlyphs">0.00171</text>
<line x1="63.4" y1="104.4" x2="58.79" y2="108.71" stroke="#333" stroke-width="1.0"/>
<polygon points="54.4,112.8 57.35,107.17 60.22,110.24" fill="#333"/>
<text x="60.9" y="173.3" font-size="9.9" font-weight="bold" fill="#ff0000" textLength="33" lengthAdjust="spacingAndGlyphs">0.00185</text>
<line x1="65" y1="175.7" x2="60.31" y2="180.23" stroke="#333" stroke-width="1.0"/>
<polygon points="56,184.4 58.85,178.72 61.77,181.74" fill="#333"/>
<text x="61.2" y="232.4" font-size="9.9" font-weight="bold" fill="#222" textLength="33" lengthAdjust="spacingAndGlyphs">0.00181</text>
<line x1="64.6" y1="234.9" x2="60.44" y2="239.06" stroke="#333" stroke-width="1.0"/>
<polygon points="56.2,243.3 58.96,237.57 61.93,240.54" fill="#333"/>
<text x="279.6" y="10.4" class="serif" font-weight="bold" font-size="13.3">(b)</text>
<g clip-path="url(#clipb)">
<polyline points="310.0,223.6 310.3,224.9 310.6,224.9 310.9,223.6 311.2,223.9 311.5,223.9 311.8,224.9 312.1,224.5 312.4,225.4 312.7,223.3 313.0,226.3 313.3,225.1 313.6,225.9 313.9,225.3 314.2,225.2 314.5,226.1 314.8,226.5 315.1,225.8 315.4,226.0 315.7,226.8 316.0,225.6 316.3,225.2 316.6,226.9 316.9,226.2 317.2,225.3 317.5,226.3 317.8,226.7 318.1,226.3 318.4,226.2 318.7,227.6 319.0,228.4 319.3,227.7 319.6,227.4 319.9,228.5 320.2,228.9 320.5,228.3 320.8,229.1 321.1,229.7 321.4,228.8 321.7,228.5 322.0,229.5 322.3,229.6 322.6,230.4 322.9,228.7 323.2,229.3 323.5,229.3 323.8,228.7 324.1,230.3 324.4,230.7 324.7,229.7 325.0,231.5 325.3,231.1 325.6,231.0 325.9,230.9 326.2,231.3 326.5,229.5 326.8,231.1 327.1,231.1 327.4,229.2 327.7,230.9 328.0,230.4 328.3,231.2 328.6,230.2 328.9,230.6 329.2,230.9 329.5,229.9 329.8,231.1 330.1,230.5 330.4,231.0 330.7,230.2 331.0,231.4 331.3,231.1 331.6,230.4 331.9,231.1 332.2,231.6 332.5,232.0 332.8,229.3 333.1,231.3 333.4,230.9 333.7,230.5 334.0,229.7 334.3,231.5 334.6,229.5 334.9,231.0 335.2,231.6 335.5,229.2 335.8,230.3 336.1,229.4 336.4,230.7 336.7,231.7 337.0,232.0 337.3,228.9 337.6,229.8 337.9,230.8 338.2,231.4 338.5,230.4 338.8,229.4 339.1,230.1 339.4,229.7 339.7,229.5 340.0,228.9 340.3,229.7 340.6,229.5 340.9,229.1 341.2,228.8 341.5,227.8 341.8,228.3 342.1,229.6 342.4,228.3 342.7,227.1 343.0,229.3 343.3,228.5 343.6,229.6 343.9,227.8 344.2,227.2 344.5,226.3 344.8,228.5 345.1,229.4 345.4,226.4 345.7,226.5 346.0,227.4 346.3,226.1 346.6,226.4 346.9,226.2 347.2,226.6 347.5,227.2 347.8,226.2 348.1,226.8 348.4,225.5 348.7,226.0 349.0,223.8 349.3,224.3 349.6,226.0 349.9,224.7 350.2,225.6 350.5,225.4 350.8,226.0 351.1,225.4 351.4,225.4 351.7,224.3 352.0,223.7 352.3,223.5 352.6,223.6 352.9,222.9 353.2,223.3 353.5,223.5 353.8,223.7 354.1,223.0 354.4,221.5 354.7,223.0 355.0,223.1 355.3,223.7 355.6,223.2 355.9,221.9 356.2,221.7 356.5,224.0 356.8,222.8 357.1,223.6 357.4,223.7 357.7,221.0 358.0,221.9 358.3,221.8 358.6,221.8 358.9,221.6 359.2,221.2 359.5,221.0 359.8,219.4 360.1,220.4 360.4,219.8 360.7,220.4 361.0,219.7 361.3,220.5 361.6,220.6 361.9,220.0 362.2,219.8 362.5,219.4 362.8,218.8 363.1,218.9 363.4,218.4 363.7,219.1 364.0,218.6 364.3,218.9 364.6,217.0 364.9,218.8 365.2,217.1 365.5,217.0 365.8,217.3 366.1,216.8 366.4,217.4 366.7,216.4 367.0,215.7 367.3,215.7 367.6,217.5 367.9,216.1 368.2,214.7 368.5,215.6 368.8,213.9 369.1,216.8 369.4,213.5 369.7,215.1 370.0,214.9 370.3,212.8 370.6,214.2 370.9,214.6 371.2,213.9 371.5,213.4 371.8,213.8 372.1,212.8 372.4,212.7 372.7,212.0 373.0,212.5 373.3,210.7 373.6,212.1 373.9,210.6 374.2,209.8 374.5,210.9 374.8,211.9 375.1,211.0 375.4,209.3 375.7,210.2 376.0,208.8 376.3,208.8 376.6,208.8 376.9,206.1 377.2,208.4 377.5,206.9 377.8,207.0 378.1,205.9 378.4,205.6 378.7,205.9 379.0,207.5 379.3,208.1 379.6,206.1 379.9,207.0 380.2,205.3 380.5,203.4 380.8,205.2 381.1,205.3 381.4,204.1 381.7,204.6 382.0,204.6 382.3,202.8 382.6,201.9 382.9,202.8 383.2,202.5 383.5,202.1 383.8,203.1 384.1,203.6 384.4,201.0 384.7,201.8 385.0,201.6 385.3,201.0 385.6,201.0 385.9,199.0 386.2,199.7 386.5,200.5 386.8,198.7 387.1,196.6 387.4,197.3 387.7,197.3 388.0,195.7 388.3,194.0 388.6,195.7 388.9,192.0 389.2,193.2 389.5,192.0 389.8,190.1 390.1,192.1 390.4,190.6 390.7,188.3 391.0,189.8 391.3,188.1 391.6,185.9 391.9,186.7 392.2,187.3 392.5,187.2 392.8,186.2 393.1,185.6 393.4,185.6 393.7,184.3 394.0,185.4 394.3,183.7 394.6,183.3 394.9,183.1 395.2,180.7 395.5,180.5 395.8,182.6 396.1,180.6 396.4,179.3 396.7,179.4 397.0,177.8 397.3,178.0 397.6,176.3 397.9,176.7 398.2,173.8 398.5,176.7 398.8,173.8 399.1,171.7 399.4,172.7 399.7,171.8 400.0,171.7 400.3,169.4 400.6,170.6 400.9,173.9 401.2,166.9 401.5,168.2 401.8,166.6 402.1,166.4 402.4,163.1 402.7,163.1 403.0,164.3 403.3,162.8 403.6,164.2 403.9,160.2 404.2,160.5 404.5,163.2 404.8,157.4 405.1,156.3 405.4,156.4 405.7,155.3 406.0,155.4 406.3,153.4 406.6,151.1 406.9,151.4 407.2,153.6 407.5,150.7 407.8,144.0 408.1,146.5 408.4,144.4 408.7,145.4 409.0,143.2 409.3,145.1 409.6,142.7 409.9,141.6 410.2,139.6 410.5,138.4 410.8,138.0 411.1,138.5 411.4,136.5 411.7,134.4 412.0,135.9 412.3,133.5 412.6,132.2 412.9,130.4 413.2,129.9 413.5,129.0 413.8,124.9 414.1,129.8 414.4,128.3 414.7,126.3 415.0,127.4 415.3,125.6 415.6,124.7 415.9,119.5 416.2,122.1 416.5,122.3 416.8,123.1 417.1,122.5 417.4,120.9 417.7,115.9 418.0,113.3 418.3,116.5 418.6,114.6 418.9,115.0 419.2,112.3 419.5,111.9 419.8,108.2 420.1,110.4 420.4,108.2 420.7,108.6 421.0,108.0 421.3,106.3 421.6,106.2 421.9,104.9 422.2,105.4 422.5,104.3 422.8,101.9 423.1,101.1 423.4,104.2 423.7,100.5 424.0,101.6 424.3,100.0 424.6,97.7 424.9,96.8 425.2,97.6 425.5,97.2 425.8,97.2 426.1,93.5 426.4,94.0 426.7,94.2 427.0,96.4 427.3,89.2 427.6,93.3 427.9,91.0 428.2,92.0 428.5,89.8 428.8,90.6 429.1,92.0 429.4,89.2 429.7,88.6 430.0,87.8 430.3,85.2 430.6,86.6 430.9,84.6 431.2,82.9 431.5,83.4 431.8,82.4 432.1,83.3 432.4,81.3 432.7,79.8 433.0,82.5 433.3,81.1 433.6,80.9 433.9,79.2 434.2,77.4 434.5,76.3 434.8,76.0 435.1,77.6 435.4,75.6 435.7,72.3 436.0,74.2 436.3,71.3 436.6,73.4 436.9,70.4 437.2,69.7 437.5,71.4 437.8,70.4 438.1,66.8 438.4,70.3 438.7,72.0 439.0,64.7 439.3,69.6 439.6,64.2 439.9,63.5 440.2,63.0 440.5,59.6 440.8,63.2 441.1,60.4 441.4,56.1 441.7,54.6 442.0,50.0 442.3,50.2 442.6,51.4 442.9,45.5 443.2,47.0 443.5,47.3 443.8,48.2 444.1,48.0 444.4,44.0 444.7,42.9 445.0,44.6 445.3,42.8 445.6,42.6 445.9,45.1 446.2,46.2 446.5,43.7 446.8,43.1 447.1,45.0 447.4,41.0 447.7,45.2 448.0,44.0 448.3,51.3 448.6,49.1 448.9,49.0 449.2,49.3 449.5,46.0 449.8,53.2 450.1,56.3 450.4,53.6 450.7,58.1 451.0,60.5 451.3,59.6 451.6,68.8 451.9,73.5 452.2,74.6 452.5,76.8 452.8,81.4 453.1,81.0 453.4,87.7 453.7,92.9 454.0,92.3 454.3,99.2 454.6,100.6 454.9,102.3 455.2,110.1 455.5,113.6 455.8,120.5 456.1,123.3 456.4,132.0 456.7,134.5 457.0,140.5 457.3,142.7 457.6,146.3 457.9,151.3 458.2,152.7 458.5,154.6 458.8,156.3 459.1,162.6 459.4,165.5 459.7,167.9 460.0,172.3 460.3,174.2 460.6,177.2 460.9,179.7 461.2,183.1 461.5,184.9 461.8,185.4 462.1,188.7 462.4,190.2 462.7,191.0 463.0,193.3 463.3,193.1 463.6,194.5 463.9,196.3 464.2,196.9 464.5,198.9 464.8,197.9 465.1,201.9 465.4,200.7 465.7,202.5 466.0,202.4 466.3,205.5 466.6,207.3 466.9,208.2 467.2,209.0 467.5,207.7 467.8,209.5 468.1,210.8 468.4,211.3 468.7,214.3 469.0,214.3 469.3,215.0 469.6,216.3 469.9,215.8 470.2,216.6 470.5,217.4 470.8,219.4 471.1,219.9 471.4,220.7 471.7,221.8 472.0,220.2 472.3,221.5 472.6,222.7 472.9,222.0 473.2,223.3 473.5,225.2 473.8,225.8 474.1,226.3 474.4,225.9 474.7,226.3 475.0,227.8 475.3,227.1 475.6,228.2 475.9,229.5 476.2,228.6 476.5,228.8 476.8,229.8 477.1,230.7 477.4,231.0 477.7,231.2 478.0,231.9 478.3,230.6 478.6,231.6 478.9,232.7 479.2,232.3 479.5,232.3 479.8,232.7 480.1,233.3 480.4,234.1 480.7,233.8 481.0,235.0 481.3,236.4 481.6,235.3 481.9,236.6 482.2,236.1 482.5,235.2 482.8,236.1 483.1,235.8 483.4,237.2 483.7,236.0 484.0,238.0 484.3,237.7 484.6,235.9 484.9,238.2 485.2,238.9 485.5,237.4 485.8,238.8 486.1,236.9 486.4,238.6 486.7,237.3 487.0,239.0 487.3,237.5 487.6,237.1 487.9,239.4 488.2,240.8 488.5,238.9 488.8,240.1 489.1,239.7 489.4,239.5 489.7,240.3 490.0,241.1 490.3,239.2 490.6,240.6 490.9,240.6 491.2,239.4 491.5,241.7 491.8,242.0 492.1,240.1 492.4,242.1 492.7,241.0 493.0,241.0 493.3,242.3 493.6,241.5 493.9,241.7 494.2,242.6 494.5,242.6 494.8,242.4 495.1,241.0 495.4,241.0 495.7,242.9 496.0,241.7 496.3,242.5 496.6,241.8 496.9,242.5 497.2,241.9 497.5,244.0 497.8,242.3 498.1,243.0 498.4,243.1 498.7,244.2 499.0,242.5 499.3,243.6 499.6,243.6 499.9,244.2 500.2,244.2 500.5,243.7 500.8,244.3 501.1,244.0 501.4,244.7 501.7,244.4 502.0,244.2 502.3,244.7 502.6,245.0 502.9,246.4 503.2,244.7 503.5,245.3 503.8,246.1 504.1,243.9 504.4,244.2 504.7,244.7 505.0,245.4 505.3,247.1 505.6,245.9 505.9,246.5 506.2,245.7 506.5,244.3 506.8,244.5 507.1,246.6 507.4,246.2 507.7,245.3 508.0,246.8 508.3,245.2 508.6,246.9 508.9,247.2 509.2,245.9 509.5,245.7 509.8,247.0 510.1,245.8 510.4,247.0 510.7,245.8 511.0,247.1 511.3,246.7 511.6,246.4 511.9,246.2 512.2,246.9 512.5,245.6 512.8,246.7 513.1,246.6 513.4,247.3 513.7,246.2 514.0,248.0 514.3,246.8 514.6,246.3 514.9,247.9 515.2,248.1 515.5,247.0 515.8,246.6 516.1,247.2 516.4,246.8 516.7,247.1 517.0,248.3 517.3,247.6 517.6,247.5 517.9,247.6 518.2,247.4 518.5,248.0 518.8,248.0 519.1,247.3 519.4,247.6 519.7,249.0 520.0,247.9 520.3,247.5 520.6,248.9 520.9,247.7 521.2,247.0 521.5,248.1 521.8,247.2 522.1,247.5 522.4,248.0 522.7,247.8 523.0,247.4 523.3,247.6 523.6,247.6 523.9,248.7 524.2,247.5 524.5,247.7 524.8,249.3 525.1,247.7 525.4,249.0 525.7,248.9 526.0,248.1 526.3,247.3 526.6,248.5 526.9,248.6 527.2,248.8 527.5,248.3 527.8,249.0 528.1,249.2 528.4,247.8 528.7,249.3 529.0,248.6 529.3,248.1 529.6,248.3 529.9,249.7 530.2,249.2 530.5,247.5 530.8,248.7 531.1,248.6 531.4,248.6 531.7,248.5 532.0,247.9 532.3,249.4 532.6,248.3 532.9,248.7 533.2,248.6 533.5,248.6 533.8,249.5 534.1,249.3 534.4,248.7 534.7,248.6 535.0,248.9 535.3,249.8 535.6,249.4 535.9,249.5 536.2,249.2 536.5,249.2 536.8,249.6 537.1,248.4 537.4,250.4 537.7,249.0 538.0,249.2 538.3,250.3 538.6,249.7 538.9,249.6 539.2,249.2 539.5,248.7 539.8,249.7 540.1,250.3 540.4,249.1 540.7,250.4 541.0,248.9 541.3,249.2 541.6,249.9 541.9,249.6 542.2,250.0 542.5,249.2 542.8,249.0 543.1,248.5 543.4,248.9 543.7,249.0 544.0,248.8 544.3,249.8 544.6,249.2 544.9,248.4 545.2,251.0 545.5,249.1 545.8,248.9 546.1,250.3 546.4,250.3 546.7,248.9 547.0,248.7 547.3,249.0 547.6,250.3 547.9,249.4 548.2,249.1 548.5,249.6 548.8,250.3 549.1,248.8 549.4,249.4 549.7,248.8 550.0,250.9 550.3,250.6 550.6,250.1 550.9,249.5 551.2,250.0 551.5,248.4 551.8,249.7 552.1,248.8 552.4,248.8 552.7,249.2 553.0,249.4 553.3,249.9 553.6,250.0 553.9,249.7 554.2,249.0 554.5,250.0 554.8,249.5 555.1,250.3 555.4,249.0 555.7,247.9 556.0,249.3 556.3,250.8 556.6,249.8 556.9,249.4 557.2,250.1 557.5,249.8 557.8,249.8 558.1,249.2 558.4,249.6 558.7,249.7 559.0,249.2 559.3,248.9 559.6,249.6 559.9,250.1 560.2,249.9 560.5,249.8 560.8,249.8 561.1,251.0 561.4,249.7 561.7,250.1 562.0,250.7 562.3,249.6 562.6,249.7 562.9,250.1 563.2,250.5 563.5,249.7 563.8,249.7 564.1,249.6 564.4,248.8 564.7,250.2 565.0,249.4 565.3,248.5 565.6,249.4 565.9,248.5 566.2,248.9 566.5,249.5 566.8,248.9 567.1,250.1 567.4,248.6 567.7,249.6 568.0,249.8 568.3,250.3 568.6,250.0 568.9,249.5 569.2,249.4 569.5,249.3 569.8,250.0 570.1,249.0 570.4,249.6 570.7,249.3 571.0,249.4 571.3,249.1 571.6,250.5 571.9,248.8 572.2,249.4 572.5,249.4 572.8,249.5 573.1,249.4 573.4,249.4 573.7,249.7 574.0,248.2 574.3,249.1 574.6,248.3 574.9,249.1 575.2,248.3 575.5,248.4 575.8,248.9 576.1,249.7 576.4,249.2 576.7,249.0 577.0,249.6 577.3,248.2 577.6,247.5 577.9,248.5 578.2,248.5 578.5,249.4 578.8,249.9 579.1,247.8 579.4,250.1 579.7,249.5 580.0,249.0 580.3,248.7 580.6,249.9 580.9,248.4 581.2,248.1 581.5,248.4 581.8,247.4 582.1,248.5 582.4,248.1 582.7,248.3 583.0,248.2 583.3,247.3 583.6,248.7 583.9,247.2 584.2,248.3 584.5,246.7 584.8,247.9 585.1,247.1 585.4,247.5 585.7,247.0 586.0,246.0 586.3,246.6 586.6,247.2 586.9,247.5 587.2,246.1 587.5,245.6 587.8,246.3 588.1,246.7 588.4,246.3 588.7,246.1 589.0,247.1 589.3,247.1 589.6,246.9 589.9,245.7 590.2,246.3 590.5,246.1 590.8,245.2 591.1,246.6 591.4,246.0 591.7,245.6 592.0,246.7 592.3,246.2 592.6,246.1 592.9,246.3 593.2,245.9 593.5,244.5 593.8,245.0 594.1,245.8 594.4,244.6 594.7,245.0 595.0,245.1 595.3,245.7 595.6,245.5 595.9,245.2 596.2,244.4 596.5,245.0 596.8,244.7 597.1,244.2 597.4,245.1 597.7,244.4 598.0,243.5 598.3,244.8 598.6,243.7 598.9,244.2 599.2,242.7 599.5,243.6 599.8,243.0 600.1,242.9 600.4,242.2 600.7,244.8 601.0,243.3 601.3,243.5 601.6,244.0 601.9,243.1 602.2,243.5 602.5,242.2 602.8,243.2 603.1,242.7 603.4,243.3 603.7,243.1 604.0,242.0 604.3,241.6 604.6,242.1 604.9,243.3 605.2,243.0 605.5,243.0 605.8,241.3 606.1,240.8 606.4,242.2 606.7,242.3 607.0,242.1 607.3,242.7 607.6,242.3 607.9,241.6 608.2,241.8 608.5,242.5 608.8,242.4 609.1,242.3 609.4,243.8 609.7,242.1 610.0,242.3 610.3,241.5 610.6,241.9 610.9,242.5 611.2,242.5 611.5,242.0 611.8,242.3 612.1,242.0 612.4,240.7 612.7,239.7 613.0,243.5 613.3,242.4 613.6,241.8 613.9,240.6 614.2,240.9 614.5,242.7 614.8,239.8 615.1,241.5 615.4,242.2 615.7,241.7 616.0,242.1 616.3,241.4 616.6,243.1 616.9,240.8 617.2,240.5 617.5,241.6 617.8,242.3 618.1,241.3 618.4,242.0 618.7,240.8 619.0,240.3 619.3,242.1 619.6,242.1 619.9,242.1 620.2,240.7 620.5,240.1 620.8,240.1 621.1,240.7 621.4,241.2 621.7,241.0 622.0,239.6 622.3,240.7 622.6,240.5 622.9,240.5 623.2,240.4 623.5,240.2 623.8,240.7 624.1,240.3 624.4,240.3 624.7,239.6 625.0,240.3 625.3,239.8 625.6,238.4 625.9,240.1 626.2,239.5 626.5,240.3 626.8,239.4 627.1,239.4 627.4,239.5 627.7,239.3 628.0,238.9 628.3,237.9 628.6,240.4 628.9,237.9 629.2,238.7 629.5,239.3 629.8,239.0 630.1,239.1 630.4,239.2 630.7,239.4 631.0,238.7 631.3,240.5 631.6,237.6 631.9,238.4 632.2,237.9 632.5,237.7 632.8,238.2 633.1,239.0 633.4,237.3 633.7,237.2 634.0,238.2 634.3,238.0 634.6,238.9 634.9,238.2 635.2,237.5 635.5,237.1 635.8,237.4 636.1,237.0 636.4,236.1 636.7,237.0 637.0,236.8 637.3,236.7 637.6,236.5 637.9,237.9 638.2,237.1 638.5,237.2 638.8,236.0 639.1,235.6 639.4,236.1 639.7,236.4 640.0,235.9 640.3,235.9 640.6,236.7 640.9,236.1 641.2,235.1 641.5,235.4 641.8,235.2 642.1,235.7 642.4,234.6 642.7,235.3 643.0,235.8 643.3,235.3 643.6,234.5 643.9,234.6 644.2,235.1 644.5,235.3 644.8,235.5 645.1,234.7 645.4,233.7 645.7,235.7 646.0,234.7 646.3,234.7 646.6,234.6 646.9,233.5 647.2,234.0 647.5,234.3 647.8,234.8 648.1,234.0 648.4,231.5 648.7,233.6 649.0,234.0 649.3,234.7 649.6,234.1 649.9,235.4 650.2,234.5 650.5,234.4 650.8,234.0 651.1,232.2 651.4,233.8 651.7,233.5 652.0,232.6 652.3,233.4 652.6,233.2 652.9,232.4 653.2,232.6 653.5,232.5 653.8,232.8 654.1,232.2 654.4,232.9 654.7,230.9 655.0,232.1 655.3,231.0 655.6,231.9 655.9,232.6 656.2,232.1 656.5,232.0 656.8,232.1 657.1,233.2 657.4,231.0 657.7,232.5 658.0,230.6 658.3,231.3 658.6,231.8 658.9,230.9 659.2,231.7 659.5,232.1 659.8,230.5 660.1,231.3 660.4,231.0 660.7,229.7 661.0,231.1 661.3,230.5 661.6,232.2 661.9,230.4 662.2,232.3 662.5,230.5 662.8,232.4 663.1,231.3 663.4,231.1 663.7,231.4 664.0,231.4 664.3,231.7 664.6,232.0 664.9,230.3 665.2,229.5 665.5,228.3 665.8,230.1 666.1,230.9 666.4,230.6 666.7,230.3 667.0,229.9 667.3,229.6 667.6,229.9 667.9,230.4 668.2,228.6 668.5,230.5 668.8,228.7 669.1,229.7 669.4,229.3 669.7,229.5 670.0,228.9 670.3,228.7 670.6,229.4 670.9,228.7 671.2,231.5 671.5,229.2 671.8,228.9 672.1,229.0 672.4,228.5 672.7,227.4 673.0,229.1 673.3,229.5 673.6,228.0 673.9,229.2 674.2,228.2 674.5,229.1 674.8,229.4 675.1,229.4 675.4,229.3 675.7,228.4 676.0,229.6 676.3,228.5 676.6,229.1 676.9,229.4 677.2,228.5 677.5,227.7 677.8,229.2 678.1,227.7 678.4,227.9 678.7,227.7 679.0,229.2 679.3,228.4 679.6,226.6 679.9,229.0 680.2,230.1 680.5,229.8 680.8,227.8 681.1,228.3 681.4,228.7 681.7,228.9 682.0,228.2 682.3,227.2 682.6,228.7 682.9,228.6 683.2,227.0 683.5,227.8 683.8,228.3 684.1,228.0 684.4,228.4 684.7,228.7 685.0,228.4 685.3,227.9 685.6,226.9 685.9,228.5 686.2,229.2 686.5,229.7 686.8,228.0 687.1,228.1 687.4,229.3 687.7,229.4 688.0,228.5 688.3,228.9 688.6,227.7 688.9,228.9 689.2,227.8 689.5,228.5 689.8,228.6 690.1,228.4 690.4,227.1 690.7,228.3 691.0,229.3 691.3,229.1 691.6,228.9 691.9,229.7 692.2,230.0 692.5,230.3 692.8,229.1" fill="none" stroke="#000000" stroke-width="1.8" stroke-linejoin="round" />
<polyline points="310.0,238.6 310.3,239.5 310.6,239.4 310.9,239.5 311.2,240.3 311.5,238.4 311.8,239.0 312.1,238.6 312.4,239.6 312.7,240.5 313.0,239.9 313.3,240.4 313.6,238.9 313.9,240.4 314.2,239.8 314.5,241.8 314.8,241.3 315.1,241.5 315.4,240.9 315.7,241.5 316.0,241.7 316.3,241.1 316.6,241.2 316.9,241.5 317.2,241.3 317.5,241.5 317.8,241.8 318.1,241.7 318.4,242.8 318.7,241.4 319.0,243.1 319.3,242.3 319.6,242.5 319.9,242.1 320.2,243.1 320.5,243.2 320.8,243.6 321.1,243.3 321.4,243.8 321.7,245.1 322.0,244.3 322.3,243.8 322.6,244.9 322.9,244.4 323.2,245.0 323.5,245.1 323.8,244.6 324.1,243.7 324.4,244.9 324.7,245.6 325.0,245.1 325.3,245.7 325.6,246.1 325.9,245.3 326.2,246.5 326.5,246.8 326.8,246.5 327.1,246.7 327.4,246.7 327.7,247.5 328.0,246.3 328.3,246.2 328.6,246.7 328.9,245.8 329.2,245.5 329.5,246.0 329.8,246.8 330.1,246.9 330.4,245.8 330.7,245.6 331.0,246.6 331.3,246.8 331.6,246.9 331.9,247.4 332.2,247.8 332.5,247.3 332.8,247.5 333.1,246.5 333.4,246.5 333.7,247.4 334.0,247.7 334.3,247.8 334.6,247.7 334.9,247.9 335.2,247.9 335.5,246.3 335.8,247.0 336.1,247.7 336.4,247.8 336.7,246.5 337.0,248.1 337.3,247.1 337.6,247.2 337.9,247.5 338.2,247.8 338.5,246.4 338.8,247.9 339.1,247.3 339.4,246.8 339.7,247.1 340.0,245.9 340.3,246.8 340.6,247.3 340.9,246.7 341.2,246.9 341.5,247.0 341.8,247.0 342.1,247.6 342.4,246.9 342.7,246.7 343.0,247.2 343.3,248.1 343.6,246.6 343.9,247.1 344.2,245.7 344.5,247.5 344.8,247.1 345.1,247.4 345.4,246.5 345.7,245.9 346.0,247.0 346.3,246.9 346.6,245.9 346.9,245.4 347.2,246.6 347.5,246.1 347.8,247.8 348.1,245.8 348.4,245.7 348.7,245.9 349.0,244.9 349.3,245.3 349.6,246.9 349.9,245.7 350.2,245.3 350.5,244.8 350.8,245.9 351.1,245.9 351.4,245.6 351.7,245.1 352.0,245.4 352.3,245.4 352.6,244.7 352.9,245.4 353.2,243.6 353.5,244.0 353.8,244.6 354.1,244.6 354.4,243.8 354.7,244.7 355.0,245.1 355.3,244.6 355.6,244.4 355.9,244.7 356.2,244.3 356.5,243.2 356.8,243.7 357.1,244.6 357.4,242.9 357.7,243.5 358.0,243.1 358.3,242.7 358.6,242.5 358.9,243.1 359.2,243.1 359.5,243.0 359.8,241.7 360.1,242.3 360.4,242.6 360.7,242.9 361.0,242.6 361.3,242.6 361.6,242.6 361.9,242.3 362.2,241.0 362.5,241.5 362.8,240.8 363.1,239.5 363.4,239.9 363.7,242.3 364.0,240.0 364.3,239.1 364.6,240.1 364.9,241.4 365.2,240.2 365.5,240.3 365.8,239.7 366.1,239.7 366.4,240.5 366.7,240.0 367.0,239.3 367.3,239.8 367.6,239.8 367.9,238.7 368.2,238.9 368.5,238.8 368.8,238.0 369.1,239.1 369.4,238.0 369.7,237.5 370.0,236.6 370.3,236.7 370.6,238.6 370.9,236.5 371.2,237.5 371.5,236.7 371.8,237.2 372.1,237.1 372.4,235.9 372.7,236.1 373.0,236.2 373.3,236.0 373.6,235.7 373.9,235.3 374.2,235.9 374.5,236.2 374.8,235.4 375.1,234.2 375.4,234.9 375.7,234.4 376.0,234.5 376.3,235.4 376.6,233.6 376.9,233.5 377.2,232.7 377.5,232.9 377.8,232.4 378.1,233.9 378.4,232.6 378.7,231.7 379.0,233.4 379.3,230.6 379.6,232.1 379.9,231.9 380.2,231.3 380.5,230.4 380.8,230.2 381.1,229.8 381.4,230.4 381.7,227.6 382.0,228.8 382.3,229.0 382.6,228.1 382.9,226.8 383.2,227.8 383.5,227.0 383.8,228.0 384.1,228.2 384.4,226.7 384.7,224.7 385.0,225.8 385.3,224.9 385.6,225.9 385.9,226.4 386.2,224.9 386.5,226.0 386.8,225.2 387.1,224.2 387.4,222.5 387.7,223.0 388.0,221.3 388.3,223.1 388.6,221.9 388.9,222.6 389.2,221.3 389.5,218.9 389.8,220.8 390.1,220.6 390.4,220.8 390.7,218.0 391.0,217.6 391.3,218.0 391.6,216.6 391.9,215.8 392.2,215.6 392.5,218.5 392.8,215.0 393.1,214.1 393.4,214.2 393.7,214.1 394.0,214.8 394.3,213.9 394.6,213.3 394.9,212.0 395.2,211.6 395.5,210.3 395.8,208.9 396.1,211.9 396.4,208.9 396.7,209.8 397.0,207.9 397.3,207.6 397.6,207.0 397.9,205.2 398.2,206.0 398.5,205.9 398.8,205.8 399.1,204.9 399.4,204.9 399.7,203.6 400.0,202.7 400.3,200.1 400.6,201.0 400.9,202.6 401.2,200.6 401.5,200.7 401.8,199.1 402.1,198.0 402.4,200.4 402.7,198.0 403.0,198.6 403.3,196.9 403.6,195.4 403.9,192.7 404.2,194.6 404.5,192.1 404.8,190.8 405.1,194.0 405.4,192.8 405.7,192.2 406.0,190.9 406.3,190.2 406.6,190.2 406.9,189.4 407.2,188.7 407.5,189.0 407.8,184.8 408.1,188.1 408.4,185.9 408.7,187.1 409.0,187.0 409.3,184.2 409.6,185.5 409.9,185.0 410.2,182.8 410.5,182.4 410.8,182.7 411.1,179.3 411.4,180.9 411.7,181.0 412.0,179.7 412.3,177.7 412.6,178.5 412.9,180.1 413.2,179.2 413.5,176.8 413.8,175.2 414.1,175.4 414.4,174.7 414.7,173.1 415.0,172.7 415.3,173.1 415.6,172.7 415.9,167.7 416.2,171.2 416.5,169.3 416.8,169.8 417.1,167.5 417.4,167.3 417.7,168.0 418.0,161.3 418.3,166.4 418.6,163.8 418.9,160.4 419.2,158.5 419.5,161.6 419.8,159.1 420.1,161.1 420.4,159.3 420.7,158.1 421.0,158.9 421.3,157.1 421.6,157.2 421.9,156.6 422.2,155.2 422.5,155.1 422.8,154.4 423.1,150.8 423.4,151.6 423.7,151.2 424.0,150.1 424.3,147.8 424.6,148.6 424.9,149.2 425.2,148.4 425.5,149.6 425.8,146.1 426.1,145.7 426.4,144.9 426.7,144.7 427.0,143.7 427.3,141.4 427.6,143.9 427.9,144.2 428.2,143.8 428.5,140.1 428.8,140.8 429.1,143.1 429.4,139.6 429.7,139.7 430.0,138.3 430.3,139.3 430.6,138.6 430.9,140.0 431.2,136.7 431.5,136.0 431.8,132.9 432.1,133.4 432.4,132.3 432.7,132.2 433.0,130.1 433.3,133.1 433.6,129.1 433.9,130.4 434.2,127.5 434.5,129.2 434.8,130.4 435.1,126.1 435.4,127.1 435.7,125.8 436.0,125.6 436.3,125.1 436.6,122.8 436.9,122.8 437.2,121.5 437.5,120.4 437.8,119.1 438.1,121.7 438.4,118.4 438.7,119.8 439.0,118.9 439.3,115.7 439.6,118.1 439.9,114.4 440.2,115.9 440.5,116.4 440.8,112.3 441.1,111.1 441.4,110.3 441.7,114.7 442.0,109.7 442.3,107.5 442.6,109.8 442.9,107.3 443.2,106.5 443.5,103.9 443.8,100.9 444.1,102.4 444.4,101.1 444.7,99.5 445.0,100.0 445.3,100.0 445.6,102.9 445.9,103.2 446.2,103.8 446.5,103.2 446.8,103.3 447.1,107.1 447.4,108.7 447.7,110.8 448.0,110.3 448.3,111.1 448.6,112.7 448.9,111.7 449.2,112.9 449.5,116.1 449.8,114.2 450.1,117.2 450.4,119.8 450.7,120.3 451.0,122.3 451.3,122.1 451.6,125.9 451.9,128.2 452.2,132.2 452.5,134.6 452.8,136.7 453.1,141.9 453.4,142.4 453.7,143.6 454.0,145.5 454.3,148.6 454.6,150.3 454.9,155.6 455.2,156.6 455.5,157.9 455.8,160.0 456.1,162.2 456.4,166.1 456.7,171.1 457.0,173.4 457.3,175.1 457.6,177.9 457.9,177.8 458.2,183.0 458.5,183.9 458.8,187.6 459.1,187.6 459.4,189.1 459.7,191.5 460.0,192.2 460.3,196.0 460.6,196.4 460.9,198.0 461.2,199.4 461.5,200.2 461.8,202.5 462.1,203.7 462.4,206.7 462.7,206.5 463.0,208.2 463.3,208.8 463.6,210.2 463.9,211.6 464.2,214.5 464.5,214.5 464.8,216.6 465.1,216.6 465.4,217.5 465.7,217.1 466.0,220.5 466.3,222.5 466.6,221.3 466.9,223.5 467.2,223.8 467.5,223.2 467.8,225.1 468.1,224.4 468.4,225.5 468.7,227.4 469.0,227.1 469.3,226.5 469.6,229.1 469.9,227.5 470.2,228.7 470.5,229.0 470.8,229.6 471.1,229.4 471.4,229.2 471.7,232.4 472.0,230.5 472.3,231.0 472.6,230.1 472.9,232.5 473.2,233.7 473.5,234.2 473.8,235.6 474.1,234.9 474.4,234.4 474.7,234.4 475.0,235.8 475.3,235.0 475.6,235.5 475.9,234.9 476.2,236.0 476.5,237.7 476.8,236.4 477.1,237.1 477.4,235.3 477.7,238.3 478.0,237.8 478.3,238.8 478.6,238.2 478.9,237.6 479.2,237.5 479.5,239.0 479.8,238.9 480.1,238.4 480.4,239.3 480.7,239.1 481.0,240.2 481.3,239.6 481.6,239.2 481.9,240.2 482.2,240.0 482.5,241.6 482.8,240.4 483.1,240.0 483.4,241.0 483.7,241.0 484.0,241.5 484.3,241.6 484.6,240.9 484.9,241.7 485.2,241.8 485.5,241.2 485.8,241.8 486.1,242.4 486.4,241.4 486.7,241.8 487.0,242.4 487.3,242.7 487.6,243.3 487.9,242.1 488.2,243.3 488.5,243.7 488.8,244.4 489.1,243.2 489.4,243.0 489.7,242.7 490.0,244.2 490.3,244.7 490.6,243.6 490.9,244.4 491.2,244.8 491.5,244.9 491.8,244.2 492.1,244.9 492.4,244.6 492.7,244.1 493.0,245.0 493.3,245.2 493.6,244.4 493.9,245.4 494.2,246.5 494.5,244.4 494.8,245.9 495.1,246.1 495.4,245.6 495.7,245.9 496.0,245.6 496.3,246.7 496.6,245.4 496.9,245.9 497.2,244.9 497.5,246.4 497.8,246.5 498.1,245.3 498.4,245.9 498.7,246.8 499.0,246.3 499.3,245.9 499.6,245.2 499.9,247.0 500.2,248.1 500.5,246.7 500.8,247.3 501.1,247.4 501.4,247.2 501.7,247.3 502.0,247.4 502.3,246.9 502.6,249.0 502.9,249.2 503.2,247.8 503.5,248.8 503.8,247.3 504.1,247.7 504.4,248.6 504.7,247.3 505.0,247.3 505.3,248.3 505.6,247.0 505.9,249.3 506.2,248.7 506.5,248.5 506.8,248.8 507.1,247.9 507.4,248.0 507.7,249.1 508.0,249.2 508.3,248.8 508.6,248.7 508.9,248.5 509.2,249.7 509.5,248.0 509.8,248.4 510.1,248.7 510.4,248.2 510.7,248.3 511.0,248.6 511.3,249.8 511.6,250.3 511.9,249.5 512.2,248.4 512.5,249.0 512.8,249.4 513.1,249.3 513.4,249.3 513.7,249.9 514.0,248.5 514.3,249.3 514.6,249.8 514.9,250.2 515.2,250.0 515.5,249.9 515.8,249.8 516.1,249.6 516.4,250.0 516.7,249.9 517.0,249.7 517.3,250.8 517.6,250.9 517.9,250.0 518.2,250.6 518.5,251.0 518.8,250.5 519.1,250.4 519.4,250.7 519.7,249.5 520.0,249.7 520.3,250.8 520.6,250.7 520.9,251.4 521.2,250.4 521.5,251.3 521.8,251.3 522.1,251.9 522.4,250.3 522.7,250.6 523.0,251.0 523.3,251.1 523.6,250.4 523.9,250.7 524.2,250.3 524.5,252.4 524.8,251.1 525.1,251.1 525.4,250.8 525.7,251.2 526.0,251.7 526.3,251.1 526.6,251.3 526.9,252.6 527.2,251.9 527.5,251.5 527.8,251.2 528.1,251.5 528.4,251.1 528.7,251.7 529.0,251.2 529.3,251.2 529.6,251.4 529.9,251.1 530.2,251.8 530.5,253.1 530.8,251.4 531.1,250.9 531.4,252.4 531.7,251.8 532.0,253.0 532.3,252.2 532.6,252.5 532.9,251.6 533.2,251.2 533.5,252.0 533.8,252.5 534.1,251.7 534.4,251.3 534.7,251.9 535.0,252.0 535.3,252.1 535.6,252.3 535.9,253.6 536.2,252.4 536.5,252.1 536.8,251.8 537.1,252.9 537.4,251.6 537.7,253.3 538.0,252.5 538.3,251.7 538.6,252.6 538.9,252.5 539.2,253.2 539.5,251.7 539.8,252.7 540.1,252.6 540.4,253.1 540.7,251.9 541.0,252.1 541.3,253.6 541.6,252.9 541.9,251.8 542.2,252.7 542.5,252.1 542.8,252.2 543.1,251.9 543.4,253.1 543.7,252.3 544.0,252.7 544.3,252.6 544.6,251.7 544.9,252.1 545.2,253.0 545.5,251.7 545.8,252.7 546.1,252.5 546.4,252.9 546.7,252.9 547.0,253.0 547.3,252.6 547.6,252.7 547.9,252.2 548.2,252.2 548.5,253.0 548.8,252.2 549.1,253.1 549.4,253.1 549.7,252.1 550.0,252.8 550.3,252.1 550.6,252.7 550.9,252.1 551.2,252.7 551.5,252.6 551.8,252.0 552.1,253.6 552.4,253.0 552.7,251.6 553.0,252.7 553.3,252.3 553.6,253.6 553.9,252.5 554.2,252.7 554.5,252.4 554.8,252.8 555.1,252.2 555.4,252.0 555.7,252.2 556.0,252.3 556.3,252.8 556.6,252.5 556.9,252.2 557.2,252.3 557.5,252.0 557.8,252.5 558.1,251.4 558.4,252.3 558.7,253.1 559.0,252.3 559.3,252.1 559.6,252.5 559.9,251.9 560.2,252.0 560.5,252.8 560.8,252.1 561.1,253.5 561.4,252.7 561.7,252.4 562.0,252.1 562.3,252.3 562.6,251.2 562.9,252.5 563.2,252.9 563.5,252.7 563.8,252.2 564.1,252.7 564.4,252.7 564.7,252.3 565.0,252.6 565.3,252.9 565.6,252.6 565.9,252.2 566.2,252.4 566.5,252.4 566.8,251.5 567.1,252.4 567.4,252.2 567.7,251.1 568.0,251.4 568.3,253.3 568.6,252.3 568.9,253.0 569.2,252.0 569.5,253.1 569.8,252.5 570.1,251.8 570.4,252.3 570.7,253.0 571.0,253.4 571.3,252.4 571.6,251.8 571.9,251.6 572.2,252.4 572.5,252.6 572.8,252.1 573.1,251.9 573.4,252.4 573.7,252.2 574.0,252.1 574.3,251.0 574.6,251.7 574.9,252.9 575.2,251.8 575.5,253.1 575.8,251.9 576.1,251.5 576.4,251.8 576.7,252.0 577.0,251.2 577.3,251.7 577.6,251.3 577.9,252.3 578.2,251.2 578.5,251.5 578.8,250.6 579.1,250.6 579.4,251.3 579.7,250.8 580.0,251.1 580.3,251.4 580.6,251.5 580.9,250.4 581.2,251.1 581.5,251.5 581.8,250.7 582.1,250.3 582.4,250.6 582.7,251.9 583.0,250.9 583.3,251.7 583.6,250.6 583.9,251.4 584.2,249.9 584.5,250.5 584.8,250.6 585.1,251.5 585.4,250.7 585.7,251.1 586.0,250.1 586.3,250.1 586.6,251.0 586.9,251.0 587.2,250.8 587.5,250.8 587.8,249.7 588.1,251.2 588.4,250.0 588.7,250.6 589.0,250.2 589.3,248.7 589.6,248.5 589.9,248.7 590.2,249.5 590.5,250.2 590.8,249.3 591.1,249.9 591.4,248.6 591.7,248.9 592.0,248.7 592.3,249.2 592.6,248.4 592.9,249.0 593.2,249.3 593.5,248.6 593.8,248.3 594.1,248.5 594.4,248.0 594.7,248.1 595.0,249.1 595.3,248.8 595.6,247.6 595.9,248.3 596.2,248.6 596.5,248.8 596.8,248.6 597.1,248.8 597.4,248.1 597.7,248.1 598.0,247.9 598.3,248.6 598.6,248.4 598.9,248.9 599.2,248.5 599.5,247.2 599.8,246.8 600.1,246.8 600.4,247.0 600.7,247.9 601.0,246.6 601.3,246.2 601.6,247.2 601.9,247.8 602.2,247.7 602.5,248.2 602.8,247.1 603.1,246.7 603.4,246.8 603.7,246.1 604.0,246.5 604.3,247.7 604.6,248.1 604.9,247.6 605.2,246.9 605.5,246.5 605.8,246.8 606.1,245.4 606.4,246.9 606.7,247.0 607.0,246.3 607.3,246.4 607.6,245.2 607.9,246.8 608.2,246.7 608.5,244.4 608.8,245.7 609.1,246.3 609.4,247.1 609.7,245.4 610.0,245.9 610.3,246.8 610.6,246.1 610.9,245.6 611.2,245.5 611.5,245.7 611.8,245.1 612.1,246.2 612.4,245.0 612.7,245.9 613.0,246.1 613.3,246.2 613.6,245.5 613.9,245.4 614.2,245.5 614.5,245.3 614.8,246.0 615.1,245.1 615.4,246.4 615.7,246.9 616.0,244.7 616.3,245.3 616.6,244.3 616.9,245.4 617.2,245.2 617.5,244.7 617.8,244.2 618.1,244.8 618.4,246.1 618.7,245.8 619.0,244.9 619.3,244.2 619.6,244.6 619.9,244.0 620.2,243.6 620.5,243.8 620.8,244.8 621.1,244.6 621.4,244.5 621.7,243.6 622.0,243.4 622.3,244.9 622.6,244.0 622.9,245.0 623.2,243.7 623.5,244.8 623.8,244.2 624.1,243.8 624.4,243.7 624.7,245.3 625.0,244.6 625.3,243.8 625.6,244.0 625.9,242.9 626.2,245.0 626.5,244.7 626.8,243.5 627.1,244.1 627.4,241.9 627.7,244.3 628.0,244.0 628.3,243.8 628.6,244.2 628.9,243.8 629.2,242.9 629.5,243.0 629.8,243.3 630.1,244.0 630.4,243.4 630.7,242.9 631.0,243.6 631.3,242.5 631.6,244.6 631.9,243.4 632.2,242.5 632.5,243.3 632.8,243.8 633.1,243.4 633.4,244.4 633.7,242.0 634.0,244.0 634.3,242.9 634.6,243.5 634.9,244.0 635.2,242.0 635.5,241.8 635.8,242.4 636.1,241.5 636.4,241.2 636.7,242.6 637.0,243.3 637.3,242.1 637.6,242.7 637.9,244.8 638.2,242.5 638.5,242.0 638.8,242.0 639.1,242.3 639.4,241.8 639.7,242.4 640.0,242.0 640.3,242.4 640.6,241.8 640.9,241.6 641.2,240.9 641.5,240.5 641.8,241.2 642.1,241.1 642.4,241.4 642.7,241.1 643.0,240.8 643.3,242.6 643.6,241.2 643.9,241.7 644.2,240.1 644.5,241.4 644.8,241.4 645.1,240.9 645.4,239.8 645.7,241.3 646.0,239.8 646.3,239.1 646.6,239.0 646.9,240.1 647.2,239.6 647.5,240.5 647.8,240.3 648.1,240.7 648.4,239.9 648.7,239.6 649.0,239.5 649.3,238.8 649.6,238.7 649.9,238.7 650.2,239.3 650.5,238.5 650.8,239.0 651.1,239.7 651.4,237.2 651.7,238.2 652.0,238.0 652.3,238.6 652.6,237.5 652.9,238.0 653.2,240.1 653.5,237.4 653.8,238.2 654.1,238.4 654.4,237.9 654.7,237.2 655.0,238.8 655.3,236.6 655.6,237.2 655.9,237.7 656.2,237.3 656.5,238.6 656.8,237.4 657.1,239.0 657.4,237.6 657.7,238.6 658.0,237.8 658.3,237.2 658.6,237.1 658.9,238.0 659.2,236.8 659.5,237.1 659.8,236.5 660.1,235.5 660.4,237.4 660.7,237.4 661.0,236.0 661.3,237.2 661.6,236.6 661.9,235.3 662.2,236.0 662.5,237.1 662.8,237.3 663.1,236.8 663.4,238.5 663.7,236.7 664.0,235.8 664.3,235.2 664.6,237.4 664.9,235.9 665.2,235.9 665.5,235.5 665.8,235.5 666.1,235.8 666.4,236.4 666.7,236.4 667.0,236.2 667.3,236.6 667.6,235.5 667.9,235.0 668.2,235.7 668.5,234.2 668.8,236.3 669.1,236.0 669.4,236.0 669.7,234.7 670.0,235.1 670.3,235.5 670.6,234.7 670.9,234.5 671.2,235.2 671.5,235.4 671.8,234.7 672.1,236.0 672.4,236.8 672.7,235.6 673.0,235.0 673.3,234.8 673.6,236.2 673.9,235.2 674.2,235.4 674.5,235.1 674.8,234.4 675.1,236.0 675.4,234.6 675.7,234.9 676.0,233.1 676.3,236.3 676.6,235.2 676.9,234.5 677.2,234.0 677.5,234.1 677.8,233.2 678.1,234.8 678.4,233.7 678.7,234.7 679.0,234.7 679.3,235.8 679.6,234.4 679.9,234.4 680.2,234.6 680.5,233.7 680.8,233.9 681.1,234.3 681.4,234.9 681.7,234.6 682.0,233.8 682.3,234.9 682.6,233.7 682.9,232.8 683.2,235.1 683.5,233.9 683.8,233.5 684.1,232.9 684.4,233.5 684.7,235.1 685.0,233.8 685.3,235.6 685.6,233.9 685.9,234.7 686.2,233.9 686.5,233.5 686.8,233.6 687.1,233.8 687.4,233.1 687.7,233.1 688.0,234.4 688.3,235.1 688.6,234.4 688.9,234.4 689.2,233.7 689.5,235.3 689.8,235.4 690.1,233.8 690.4,234.8 690.7,234.6 691.0,233.8 691.3,236.3 691.6,236.0 691.9,235.5 692.2,236.4 692.5,235.1 692.8,235.8" fill="none" stroke="#ff0000" stroke-width="1.8" stroke-linejoin="round" />
<polyline points="310.0,219.2 310.3,214.9 310.6,218.7 310.9,218.1 311.2,219.4 311.5,218.7 311.8,220.2 312.1,218.8 312.4,218.5 312.7,219.7 313.0,219.7 313.3,219.2 313.6,219.5 313.9,220.6 314.2,220.8 314.5,219.9 314.8,220.2 315.1,219.1 315.4,222.4 315.7,221.0 316.0,222.5 316.3,221.9 316.6,223.5 316.9,223.4 317.2,222.5 317.5,223.7 317.8,221.9 318.1,224.0 318.4,221.9 318.7,223.7 319.0,224.6 319.3,224.2 319.6,223.9 319.9,223.8 320.2,224.5 320.5,226.0 320.8,226.2 321.1,225.5 321.4,224.9 321.7,226.8 322.0,225.3 322.3,226.4 322.6,226.5 322.9,228.0 323.2,227.9 323.5,228.3 323.8,228.4 324.1,227.9 324.4,229.1 324.7,230.0 325.0,229.1 325.3,229.8 325.6,229.4 325.9,230.5 326.2,230.4 326.5,230.7 326.8,230.4 327.1,231.5 327.4,230.0 327.7,230.2 328.0,230.1 328.3,231.2 328.6,230.3 328.9,230.4 329.2,231.6 329.5,232.1 329.8,231.7 330.1,229.3 330.4,230.8 330.7,230.8 331.0,230.8 331.3,231.5 331.6,233.3 331.9,231.7 332.2,231.5 332.5,232.7 332.8,232.3 333.1,232.4 333.4,231.8 333.7,232.4 334.0,232.8 334.3,231.0 334.6,231.3 334.9,233.4 335.2,233.2 335.5,232.2 335.8,231.8 336.1,232.5 336.4,231.7 336.7,232.3 337.0,233.9 337.3,232.7 337.6,233.5 337.9,232.4 338.2,232.8 338.5,233.6 338.8,231.4 339.1,232.2 339.4,232.3 339.7,232.6 340.0,233.6 340.3,232.8 340.6,231.1 340.9,232.0 341.2,231.5 341.5,231.4 341.8,233.7 342.1,231.2 342.4,232.2 342.7,231.4 343.0,232.6 343.3,232.2 343.6,232.0 343.9,231.7 344.2,232.7 344.5,231.0 344.8,231.1 345.1,230.7 345.4,232.6 345.7,231.3 346.0,230.6 346.3,231.1 346.6,233.3 346.9,231.2 347.2,231.9 347.5,231.5 347.8,231.0 348.1,230.4 348.4,230.6 348.7,230.5 349.0,228.9 349.3,232.6 349.6,231.2 349.9,230.5 350.2,230.1 350.5,229.6 350.8,230.8 351.1,229.8 351.4,230.3 351.7,228.6 352.0,230.0 352.3,231.2 352.6,229.2 352.9,230.0 353.2,229.3 353.5,230.0 353.8,229.9 354.1,229.0 354.4,228.3 354.7,228.9 355.0,228.6 355.3,228.0 355.6,228.7 355.9,228.6 356.2,227.4 356.5,228.0 356.8,230.3 357.1,228.5 357.4,227.8 357.7,229.7 358.0,227.1 358.3,225.3 358.6,225.7 358.9,225.9 359.2,227.2 359.5,227.7 359.8,224.9 360.1,227.6 360.4,225.5 360.7,226.6 361.0,226.6 361.3,226.5 361.6,226.0 361.9,226.0 362.2,224.8 362.5,225.8 362.8,226.3 363.1,226.1 363.4,227.4 363.7,226.0 364.0,225.5 364.3,226.2 364.6,224.8 364.9,223.3 365.2,222.4 365.5,225.2 365.8,224.5 366.1,224.6 366.4,223.4 366.7,223.8 367.0,225.0 367.3,223.5 367.6,222.1 367.9,222.5 368.2,223.9 368.5,221.6 368.8,220.1 369.1,220.2 369.4,220.9 369.7,222.6 370.0,221.8 370.3,220.9 370.6,220.2 370.9,221.1 371.2,220.8 371.5,220.3 371.8,220.4 372.1,219.7 372.4,221.8 372.7,217.9 373.0,219.9 373.3,218.7 373.6,220.0 373.9,218.9 374.2,219.3 374.5,219.2 374.8,218.7 375.1,219.2 375.4,216.8 375.7,218.7 376.0,217.4 376.3,217.7 376.6,218.5 376.9,217.9 377.2,218.4 377.5,214.2 377.8,215.2 378.1,216.7 378.4,214.5 378.7,215.1 379.0,216.6 379.3,215.5 379.6,213.5 379.9,214.5 380.2,214.4 380.5,213.5 380.8,213.1 381.1,213.0 381.4,211.1 381.7,212.3 382.0,210.9 382.3,211.9 382.6,211.6 382.9,210.0 383.2,211.1 383.5,210.5 383.8,209.7 384.1,210.1 384.4,208.7 384.7,208.4 385.0,208.3 385.3,207.8 385.6,208.6 385.9,204.7 386.2,206.4 386.5,204.2 386.8,205.3 387.1,205.7 387.4,205.0 387.7,205.5 388.0,204.4 388.3,200.9 388.6,202.1 388.9,204.4 389.2,203.9 389.5,202.0 389.8,199.8 390.1,203.2 390.4,198.2 390.7,200.3 391.0,199.4 391.3,199.1 391.6,197.1 391.9,197.3 392.2,198.2 392.5,195.9 392.8,194.2 393.1,195.0 393.4,194.5 393.7,193.5 394.0,192.1 394.3,192.9 394.6,191.5 394.9,189.6 395.2,190.6 395.5,189.7 395.8,189.3 396.1,186.5 396.4,187.0 396.7,187.8 397.0,187.8 397.3,186.5 397.6,185.8 397.9,185.8 398.2,185.6 398.5,185.9 398.8,183.8 399.1,182.0 399.4,182.6 399.7,179.1 400.0,180.9 400.3,179.6 400.6,179.5 400.9,179.5 401.2,178.3 401.5,175.8 401.8,176.4 402.1,175.2 402.4,175.5 402.7,175.3 403.0,173.0 403.3,174.4 403.6,174.4 403.9,171.7 404.2,172.2 404.5,168.8 404.8,169.2 405.1,170.4 405.4,166.2 405.7,167.0 406.0,165.8 406.3,167.6 406.6,166.8 406.9,163.8 407.2,164.0 407.5,159.6 407.8,163.3 408.1,161.8 408.4,162.3 408.7,156.6 409.0,159.3 409.3,157.5 409.6,153.6 409.9,155.2 410.2,155.1 410.5,155.4 410.8,153.6 411.1,151.6 411.4,151.9 411.7,150.2 412.0,148.4 412.3,146.8 412.6,147.3 412.9,146.1 413.2,147.3 413.5,143.0 413.8,144.7 414.1,141.9 414.4,142.0 414.7,138.0 415.0,137.1 415.3,137.0 415.6,137.8 415.9,135.8 416.2,135.7 416.5,134.2 416.8,134.3 417.1,132.2 417.4,130.2 417.7,130.9 418.0,129.4 418.3,131.0 418.6,127.4 418.9,126.9 419.2,125.5 419.5,126.9 419.8,125.7 420.1,124.5 420.4,120.9 420.7,119.7 421.0,121.7 421.3,121.6 421.6,122.0 421.9,116.3 422.2,118.1 422.5,115.0 422.8,115.5 423.1,115.9 423.4,117.1 423.7,114.1 424.0,113.2 424.3,113.2 424.6,115.0 424.9,116.2 425.2,109.3 425.5,110.7 425.8,109.8 426.1,111.6 426.4,109.8 426.7,110.9 427.0,106.1 427.3,107.1 427.6,105.7 427.9,104.0 428.2,104.8 428.5,102.5 428.8,107.2 429.1,103.7 429.4,100.7 429.7,100.7 430.0,103.9 430.3,99.6 430.6,100.9 430.9,100.1 431.2,100.4 431.5,99.0 431.8,97.1 432.1,95.9 432.4,93.4 432.7,95.7 433.0,95.4 433.3,94.0 433.6,93.8 433.9,91.4 434.2,96.5 434.5,91.4 434.8,89.9 435.1,89.9 435.4,90.0 435.7,90.8 436.0,84.7 436.3,88.8 436.6,86.1 436.9,86.0 437.2,87.1 437.5,85.8 437.8,82.4 438.1,82.5 438.4,84.9 438.7,83.0 439.0,81.2 439.3,78.5 439.6,78.9 439.9,76.7 440.2,73.7 440.5,71.6 440.8,73.1 441.1,71.8 441.4,72.4 441.7,68.7 442.0,71.4 442.3,67.6 442.6,69.9 442.9,68.0 443.2,65.4 443.5,64.3 443.8,65.3 444.1,64.7 444.4,66.6 444.7,63.5 445.0,62.1 445.3,64.7 445.6,68.4 445.9,68.2 446.2,64.5 446.5,65.7 446.8,67.3 447.1,66.3 447.4,67.9 447.7,68.8 448.0,68.7 448.3,72.8 448.6,77.1 448.9,81.1 449.2,80.5 449.5,84.1 449.8,83.5 450.1,85.1 450.4,86.2 450.7,96.7 451.0,95.0 451.3,98.8 451.6,101.3 451.9,102.4 452.2,105.4 452.5,108.1 452.8,110.7 453.1,113.3 453.4,117.3 453.7,113.3 454.0,120.4 454.3,126.9 454.6,130.7 454.9,136.0 455.2,142.1 455.5,142.8 455.8,147.2 456.1,146.5 456.4,148.6 456.7,148.2 457.0,148.4 457.3,152.0 457.6,154.1 457.9,155.3 458.2,155.9 458.5,160.9 458.8,163.1 459.1,166.7 459.4,169.8 459.7,176.8 460.0,180.0 460.3,181.1 460.6,182.8 460.9,185.3 461.2,188.8 461.5,191.8 461.8,190.3 462.1,191.4 462.4,191.3 462.7,197.8 463.0,194.9 463.3,198.3 463.6,199.2 463.9,201.4 464.2,200.4 464.5,200.9 464.8,204.0 465.1,205.5 465.4,207.5 465.7,205.9 466.0,208.3 466.3,209.7 466.6,209.8 466.9,212.0 467.2,214.0 467.5,214.3 467.8,213.9 468.1,216.5 468.4,217.9 468.7,218.4 469.0,219.4 469.3,217.9 469.6,220.4 469.9,221.1 470.2,220.8 470.5,221.7 470.8,221.6 471.1,223.9 471.4,223.1 471.7,223.1 472.0,224.6 472.3,225.1 472.6,226.0 472.9,225.2 473.2,225.8 473.5,227.2 473.8,229.2 474.1,228.2 474.4,227.1 474.7,228.8 475.0,228.4 475.3,228.0 475.6,229.3 475.9,229.8 476.2,230.9 476.5,232.0 476.8,232.2 477.1,232.3 477.4,231.7 477.7,232.5 478.0,232.7 478.3,234.1 478.6,232.8 478.9,233.2 479.2,235.0 479.5,234.6 479.8,234.1 480.1,234.8 480.4,235.1 480.7,235.4 481.0,236.1 481.3,236.0 481.6,235.8 481.9,235.8 482.2,235.1 482.5,236.2 482.8,237.6 483.1,237.1 483.4,236.7 483.7,237.2 484.0,236.9 484.3,237.9 484.6,239.3 484.9,239.4 485.2,239.1 485.5,238.9 485.8,238.4 486.1,237.8 486.4,238.8 486.7,238.7 487.0,239.7 487.3,239.4 487.6,239.0 487.9,239.9 488.2,241.7 488.5,239.2 488.8,240.7 489.1,240.5 489.4,240.1 489.7,239.8 490.0,240.4 490.3,240.7 490.6,241.2 490.9,241.3 491.2,241.1 491.5,240.6 491.8,241.3 492.1,240.9 492.4,240.7 492.7,242.1 493.0,241.1 493.3,240.9 493.6,241.9 493.9,240.6 494.2,242.0 494.5,242.5 494.8,242.0 495.1,242.6 495.4,244.0 495.7,243.6 496.0,243.4 496.3,243.3 496.6,242.7 496.9,243.1 497.2,243.1 497.5,243.4 497.8,243.6 498.1,243.1 498.4,244.9 498.7,243.2 499.0,244.3 499.3,244.9 499.6,244.3 499.9,244.0 500.2,244.6 500.5,245.9 500.8,245.2 501.1,244.7 501.4,245.4 501.7,245.0 502.0,244.0 502.3,245.5 502.6,246.1 502.9,246.3 503.2,245.6 503.5,244.9 503.8,246.6 504.1,245.8 504.4,246.5 504.7,246.8 505.0,246.4 505.3,246.2 505.6,246.0 505.9,246.2 506.2,246.5 506.5,246.3 506.8,246.9 507.1,245.5 507.4,246.1 507.7,246.8 508.0,246.4 508.3,246.5 508.6,246.2 508.9,247.4 509.2,248.0 509.5,246.4 509.8,247.8 510.1,246.3 510.4,247.3 510.7,246.0 511.0,247.6 511.3,247.3 511.6,247.4 511.9,248.1 512.2,247.8 512.5,247.4 512.8,247.0 513.1,247.6 513.4,247.1 513.7,247.3 514.0,248.5 514.3,248.2 514.6,247.9 514.9,248.1 515.2,246.9 515.5,247.8 515.8,246.8 516.1,247.4 516.4,248.1 516.7,248.1 517.0,248.4 517.3,248.0 517.6,248.0 517.9,248.0 518.2,248.9 518.5,248.8 518.8,247.2 519.1,248.2 519.4,248.9 519.7,248.0 520.0,248.3 520.3,247.8 520.6,247.5 520.9,248.3 521.2,248.0 521.5,248.2 521.8,247.5 522.1,247.7 522.4,248.3 522.7,248.1 523.0,248.7 523.3,247.8 523.6,248.9 523.9,248.8 524.2,248.6 524.5,248.9 524.8,248.5 525.1,248.5 525.4,248.6 525.7,247.9 526.0,248.6 526.3,249.2 526.6,247.8 526.9,249.1 527.2,248.4 527.5,248.6 527.8,248.9 528.1,249.0 528.4,249.7 528.7,248.8 529.0,250.0 529.3,249.0 529.6,249.3 529.9,249.4 530.2,248.7 530.5,248.5 530.8,249.2 531.1,249.6 531.4,249.8 531.7,249.1 532.0,250.4 532.3,249.3 532.6,249.1 532.9,250.2 533.2,250.3 533.5,249.1 533.8,250.1 534.1,249.0 534.4,249.8 534.7,251.1 535.0,250.6 535.3,250.3 535.6,250.3 535.9,249.5 536.2,250.2 536.5,250.3 536.8,249.5 537.1,250.3 537.4,250.5 537.7,250.3 538.0,250.5 538.3,250.1 538.6,249.6 538.9,250.3 539.2,249.2 539.5,249.9 539.8,250.9 540.1,251.3 540.4,250.6 540.7,248.9 541.0,251.1 541.3,250.6 541.6,250.2 541.9,250.8 542.2,250.6 542.5,249.6 542.8,249.6 543.1,250.9 543.4,249.0 543.7,250.7 544.0,250.5 544.3,250.9 544.6,251.3 544.9,251.1 545.2,251.2 545.5,250.8 545.8,250.6 546.1,250.9 546.4,250.3 546.7,249.8 547.0,250.3 547.3,249.4 547.6,250.0 547.9,251.5 548.2,250.6 548.5,250.2 548.8,250.0 549.1,249.3 549.4,250.0 549.7,249.8 550.0,250.3 550.3,250.3 550.6,250.2 550.9,249.2 551.2,251.1 551.5,250.5 551.8,250.3 552.1,250.1 552.4,250.5 552.7,251.0 553.0,250.6 553.3,249.6 553.6,249.5 553.9,248.9 554.2,250.3 554.5,250.6 554.8,250.9 555.1,250.3 555.4,250.7 555.7,249.7 556.0,250.5 556.3,250.1 556.6,249.8 556.9,249.2 557.2,250.8 557.5,248.8 557.8,250.5 558.1,249.7 558.4,250.5 558.7,249.8 559.0,250.6 559.3,250.0 559.6,249.5 559.9,249.8 560.2,249.2 560.5,250.2 560.8,250.7 561.1,250.3 561.4,250.1 561.7,250.8 562.0,249.4 562.3,250.4 562.6,250.1 562.9,249.8 563.2,250.4 563.5,249.4 563.8,249.9 564.1,250.2 564.4,249.3 564.7,249.9 565.0,250.3 565.3,250.5 565.6,249.4 565.9,250.5 566.2,249.8 566.5,250.0 566.8,249.6 567.1,250.4 567.4,249.5 567.7,250.1 568.0,250.1 568.3,250.3 568.6,249.3 568.9,250.3 569.2,249.9 569.5,250.7 569.8,249.6 570.1,249.5 570.4,249.8 570.7,249.6 571.0,249.7 571.3,249.0 571.6,248.5 571.9,248.8 572.2,249.3 572.5,249.9 572.8,249.4 573.1,249.0 573.4,249.5 573.7,249.6 574.0,251.2 574.3,250.3 574.6,249.6 574.9,248.6 575.2,249.3 575.5,249.2 575.8,249.7 576.1,250.6 576.4,249.3 576.7,248.2 577.0,249.2 577.3,248.3 577.6,249.7 577.9,249.9 578.2,249.4 578.5,248.3 578.8,249.0 579.1,249.8 579.4,248.5 579.7,248.7 580.0,249.1 580.3,249.3 580.6,249.0 580.9,249.1 581.2,249.0 581.5,248.5 581.8,248.7 582.1,248.9 582.4,248.0 582.7,248.7 583.0,248.6 583.3,248.8 583.6,248.6 583.9,247.7 584.2,247.5 584.5,248.4 584.8,248.1 585.1,248.2 585.4,247.7 585.7,247.2 586.0,248.0 586.3,247.7 586.6,248.1 586.9,248.3 587.2,248.3 587.5,248.1 587.8,246.8 588.1,246.1 588.4,246.9 588.7,246.5 589.0,246.3 589.3,247.5 589.6,246.0 589.9,247.5 590.2,247.5 590.5,248.4 590.8,247.3 591.1,247.9 591.4,246.1 591.7,246.0 592.0,247.0 592.3,245.5 592.6,246.9 592.9,245.9 593.2,244.8 593.5,247.1 593.8,245.1 594.1,247.3 594.4,244.7 594.7,245.0 595.0,245.6 595.3,245.4 595.6,244.3 595.9,245.3 596.2,245.2 596.5,245.3 596.8,243.9 597.1,244.5 597.4,244.7 597.7,245.2 598.0,244.7 598.3,244.3 598.6,244.2 598.9,245.3 599.2,243.8 599.5,244.4 599.8,242.8 600.1,245.2 600.4,244.3 600.7,242.8 601.0,244.3 601.3,244.8 601.6,244.4 601.9,243.9 602.2,244.3 602.5,243.2 602.8,243.5 603.1,243.4 603.4,243.6 603.7,242.9 604.0,244.4 604.3,243.4 604.6,242.7 604.9,243.2 605.2,243.6 605.5,243.4 605.8,244.0 606.1,243.0 606.4,242.7 606.7,243.5 607.0,244.0 607.3,242.5 607.6,242.0 607.9,242.6 608.2,243.0 608.5,242.3 608.8,243.1 609.1,242.4 609.4,243.5 609.7,242.1 610.0,242.2 610.3,242.9 610.6,243.2 610.9,243.4 611.2,242.3 611.5,242.7 611.8,243.0 612.1,243.6 612.4,242.0 612.7,241.8 613.0,242.9 613.3,242.4 613.6,243.4 613.9,242.5 614.2,242.7 614.5,241.9 614.8,242.6 615.1,243.2 615.4,242.1 615.7,241.5 616.0,242.8 616.3,242.0 616.6,242.2 616.9,241.6 617.2,242.7 617.5,241.5 617.8,241.7 618.1,242.0 618.4,241.8 618.7,240.4 619.0,242.2 619.3,241.0 619.6,241.9 619.9,241.4 620.2,241.6 620.5,241.1 620.8,240.8 621.1,241.6 621.4,241.6 621.7,242.1 622.0,241.7 622.3,240.8 622.6,242.0 622.9,242.6 623.2,241.6 623.5,240.9 623.8,240.3 624.1,240.9 624.4,239.8 624.7,241.3 625.0,240.4 625.3,240.2 625.6,240.7 625.9,239.6 626.2,239.1 626.5,240.0 626.8,241.0 627.1,239.5 627.4,240.6 627.7,238.7 628.0,239.8 628.3,240.1 628.6,241.0 628.9,238.4 629.2,239.5 629.5,238.8 629.8,239.6 630.1,238.9 630.4,239.3 630.7,238.6 631.0,238.7 631.3,239.3 631.6,239.9 631.9,239.0 632.2,238.8 632.5,238.3 632.8,239.7 633.1,237.1 633.4,237.0 633.7,237.8 634.0,238.6 634.3,238.9 634.6,238.5 634.9,238.6 635.2,238.1 635.5,237.5 635.8,237.0 636.1,238.1 636.4,237.0 636.7,237.9 637.0,238.0 637.3,237.0 637.6,237.0 637.9,236.9 638.2,237.7 638.5,237.2 638.8,236.5 639.1,237.1 639.4,238.0 639.7,237.0 640.0,236.8 640.3,236.3 640.6,235.9 640.9,236.5 641.2,236.4 641.5,236.1 641.8,237.1 642.1,236.0 642.4,236.0 642.7,236.1 643.0,236.3 643.3,234.5 643.6,236.0 643.9,236.6 644.2,234.8 644.5,235.8 644.8,235.1 645.1,234.6 645.4,235.5 645.7,235.1 646.0,233.6 646.3,234.6 646.6,235.6 646.9,234.5 647.2,234.3 647.5,234.5 647.8,234.3 648.1,235.2 648.4,233.9 648.7,233.6 649.0,234.7 649.3,235.1 649.6,234.8 649.9,234.8 650.2,233.6 650.5,232.9 650.8,233.4 651.1,233.9 651.4,232.5 651.7,233.5 652.0,234.1 652.3,233.1 652.6,235.1 652.9,234.1 653.2,232.5 653.5,232.5 653.8,232.7 654.1,233.8 654.4,233.5 654.7,232.7 655.0,233.2 655.3,233.6 655.6,233.3 655.9,231.6 656.2,232.0 656.5,232.1 656.8,231.4 657.1,233.3 657.4,232.1 657.7,232.0 658.0,231.8 658.3,232.7 658.6,232.8 658.9,232.8 659.2,233.2 659.5,231.5 659.8,233.4 660.1,234.0 660.4,231.6 660.7,231.7 661.0,232.4 661.3,232.8 661.6,231.6 661.9,231.1 662.2,233.3 662.5,231.3 662.8,229.5 663.1,232.0 663.4,232.3 663.7,232.8 664.0,232.8 664.3,233.8 664.6,230.9 664.9,230.5 665.2,230.1 665.5,232.5 665.8,230.8 666.1,229.8 666.4,229.4 666.7,231.1 667.0,230.6 667.3,231.1 667.6,230.2 667.9,230.2 668.2,231.1 668.5,230.6 668.8,231.1 669.1,230.5 669.4,230.4 669.7,230.8 670.0,230.2 670.3,230.6 670.6,230.8 670.9,230.0 671.2,230.2 671.5,230.4 671.8,230.8 672.1,230.4 672.4,230.4 672.7,230.5 673.0,229.8 673.3,230.3 673.6,229.4 673.9,228.5 674.2,230.3 674.5,228.3 674.8,229.7 675.1,231.1 675.4,230.4 675.7,228.9 676.0,230.3 676.3,229.9 676.6,229.0 676.9,229.5 677.2,229.1 677.5,229.3 677.8,229.7 678.1,228.2 678.4,230.1 678.7,231.0 679.0,229.2 679.3,228.5 679.6,228.9 679.9,230.2 680.2,228.8 680.5,229.5 680.8,230.9 681.1,228.5 681.4,229.1 681.7,228.5 682.0,228.7 682.3,229.1 682.6,228.3 682.9,229.3 683.2,229.0 683.5,229.8 683.8,229.4 684.1,229.1 684.4,230.0 684.7,228.7 685.0,229.3 685.3,228.3 685.6,230.0 685.9,228.2 686.2,229.6 686.5,228.3 686.8,229.1 687.1,228.1 687.4,228.4 687.7,228.3 688.0,229.4 688.3,229.6 688.6,229.8 688.9,229.6 689.2,229.2 689.5,230.0 689.8,230.8 690.1,229.3 690.4,229.1 690.7,230.3 691.0,231.6 691.3,230.0 691.6,229.9 691.9,229.5 692.2,229.8 692.5,229.7 692.8,229.8" fill="none" stroke="#0000ff" stroke-width="1.8" stroke-linejoin="round" />
<polyline points="310.0,226.1 310.3,224.9 310.6,224.6 310.9,223.7 311.2,226.1 311.5,227.7 311.8,226.9 312.1,227.5 312.4,228.1 312.7,226.8 313.0,229.9 313.3,227.2 313.6,228.4 313.9,230.6 314.2,228.5 314.5,228.9 314.8,228.6 315.1,229.5 315.4,227.7 315.7,229.1 316.0,231.2 316.3,230.2 316.6,230.0 316.9,230.7 317.2,231.0 317.5,231.0 317.8,231.5 318.1,229.9 318.4,231.9 318.7,231.2 319.0,232.5 319.3,232.1 319.6,231.6 319.9,232.5 320.2,232.1 320.5,233.8 320.8,233.3 321.1,234.2 321.4,232.9 321.7,235.2 322.0,234.0 322.3,235.4 322.6,235.2 322.9,234.0 323.2,235.2 323.5,234.8 323.8,235.7 324.1,236.6 324.4,236.2 324.7,236.6 325.0,235.1 325.3,236.3 325.6,236.5 325.9,237.1 326.2,235.9 326.5,236.9 326.8,236.9 327.1,235.5 327.4,235.9 327.7,237.0 328.0,235.9 328.3,235.9 328.6,237.5 328.9,237.1 329.2,236.8 329.5,237.1 329.8,236.8 330.1,236.7 330.4,236.8 330.7,237.5 331.0,238.2 331.3,236.9 331.6,237.3 331.9,237.2 332.2,236.5 332.5,237.6 332.8,238.1 333.1,236.9 333.4,238.1 333.7,237.1 334.0,238.4 334.3,238.4 334.6,237.3 334.9,236.1 335.2,237.3 335.5,236.6 335.8,236.6 336.1,237.4 336.4,238.6 336.7,237.5 337.0,237.4 337.3,236.2 337.6,237.1 337.9,236.5 338.2,237.9 338.5,237.1 338.8,237.4 339.1,237.4 339.4,237.2 339.7,238.0 340.0,237.6 340.3,236.9 340.6,237.2 340.9,237.5 341.2,238.0 341.5,237.1 341.8,238.0 342.1,236.4 342.4,236.6 342.7,235.6 343.0,237.3 343.3,235.8 343.6,235.8 343.9,237.1 344.2,236.0 344.5,235.8 344.8,237.0 345.1,236.1 345.4,236.8 345.7,235.8 346.0,236.6 346.3,236.8 346.6,236.0 346.9,237.2 347.2,235.4 347.5,235.5 347.8,235.6 348.1,236.3 348.4,235.2 348.7,235.0 349.0,235.4 349.3,236.1 349.6,234.7 349.9,234.0 350.2,234.8 350.5,235.2 350.8,234.3 351.1,234.7 351.4,233.1 351.7,234.4 352.0,234.3 352.3,234.6 352.6,234.3 352.9,234.5 353.2,233.1 353.5,234.2 353.8,232.4 354.1,233.1 354.4,234.3 354.7,233.9 355.0,231.7 355.3,233.5 355.6,232.6 355.9,232.2 356.2,232.8 356.5,232.7 356.8,233.5 357.1,231.2 357.4,231.8 357.7,231.9 358.0,230.5 358.3,232.7 358.6,233.0 358.9,231.0 359.2,231.6 359.5,231.0 359.8,231.3 360.1,230.4 360.4,231.4 360.7,229.7 361.0,231.5 361.3,230.6 361.6,232.1 361.9,228.6 362.2,229.7 362.5,228.6 362.8,229.4 363.1,229.7 363.4,228.4 363.7,227.8 364.0,227.4 364.3,228.8 364.6,229.5 364.9,229.3 365.2,228.2 365.5,227.2 365.8,227.5 366.1,226.4 366.4,226.1 366.7,228.1 367.0,226.8 367.3,227.2 367.6,226.5 367.9,227.6 368.2,227.5 368.5,225.5 368.8,225.7 369.1,225.2 369.4,226.7 369.7,226.4 370.0,224.9 370.3,226.9 370.6,224.8 370.9,223.5 371.2,222.6 371.5,224.0 371.8,224.2 372.1,223.2 372.4,223.8 372.7,224.3 373.0,223.0 373.3,223.5 373.6,224.0 373.9,222.8 374.2,221.6 374.5,222.2 374.8,222.0 375.1,223.2 375.4,220.6 375.7,219.4 376.0,220.7 376.3,220.5 376.6,219.5 376.9,220.1 377.2,219.6 377.5,220.1 377.8,217.9 378.1,217.7 378.4,217.9 378.7,217.1 379.0,218.4 379.3,217.4 379.6,216.4 379.9,217.4 380.2,216.1 380.5,216.1 380.8,215.5 381.1,214.2 381.4,213.8 381.7,213.4 382.0,211.9 382.3,212.2 382.6,212.9 382.9,211.9 383.2,210.2 383.5,212.9 383.8,209.1 384.1,210.2 384.4,209.8 384.7,209.8 385.0,207.1 385.3,207.5 385.6,206.7 385.9,207.5 386.2,206.2 386.5,205.7 386.8,205.3 387.1,206.2 387.4,204.3 387.7,204.0 388.0,201.6 388.3,202.7 388.6,200.1 388.9,201.8 389.2,200.4 389.5,198.7 389.8,197.8 390.1,198.3 390.4,197.9 390.7,196.4 391.0,196.0 391.3,195.3 391.6,194.3 391.9,194.0 392.2,193.7 392.5,194.2 392.8,192.7 393.1,190.6 393.4,192.4 393.7,191.2 394.0,188.9 394.3,189.6 394.6,187.2 394.9,186.3 395.2,185.6 395.5,187.6 395.8,185.2 396.1,184.8 396.4,183.8 396.7,182.5 397.0,182.9 397.3,182.4 397.6,183.2 397.9,179.1 398.2,181.2 398.5,179.5 398.8,175.8 399.1,178.3 399.4,178.4 399.7,177.0 400.0,175.2 400.3,174.3 400.6,170.9 400.9,173.0 401.2,172.0 401.5,169.8 401.8,170.4 402.1,168.6 402.4,171.4 402.7,166.2 403.0,165.8 403.3,163.3 403.6,164.8 403.9,164.6 404.2,163.6 404.5,161.9 404.8,163.0 405.1,161.3 405.4,161.7 405.7,159.1 406.0,156.0 406.3,157.3 406.6,155.2 406.9,156.8 407.2,153.9 407.5,153.5 407.8,152.8 408.1,149.7 408.4,150.2 408.7,150.9 409.0,147.7 409.3,147.0 409.6,146.1 409.9,143.6 410.2,142.8 410.5,142.5 410.8,140.2 411.1,139.8 411.4,138.5 411.7,136.3 412.0,135.0 412.3,138.8 412.6,137.1 412.9,134.1 413.2,134.8 413.5,134.2 413.8,133.2 414.1,130.5 414.4,128.2 414.7,127.7 415.0,128.5 415.3,130.1 415.6,129.7 415.9,126.3 416.2,125.4 416.5,127.0 416.8,127.6 417.1,122.4 417.4,123.8 417.7,122.5 418.0,121.1 418.3,120.3 418.6,119.5 418.9,119.3 419.2,116.1 419.5,117.8 419.8,118.2 420.1,117.4 420.4,116.8 420.7,115.3 421.0,114.3 421.3,116.3 421.6,112.2 421.9,111.9 422.2,112.8 422.5,110.1 422.8,107.1 423.1,107.4 423.4,106.6 423.7,106.0 424.0,104.5 424.3,105.8 424.6,104.4 424.9,103.1 425.2,100.8 425.5,102.2 425.8,101.4 426.1,102.7 426.4,97.5 426.7,97.6 427.0,99.5 427.3,94.9 427.6,96.5 427.9,95.9 428.2,95.1 428.5,92.9 428.8,94.0 429.1,90.9 429.4,94.8 429.7,91.4 430.0,91.9 430.3,90.9 430.6,90.6 430.9,89.8 431.2,89.6 431.5,87.5 431.8,87.3 432.1,84.6 432.4,83.8 432.7,83.3 433.0,82.2 433.3,80.7 433.6,81.0 433.9,82.3 434.2,81.0 434.5,78.7 434.8,79.1 435.1,78.2 435.4,81.3 435.7,72.9 436.0,75.1 436.3,71.5 436.6,75.0 436.9,71.5 437.2,71.7 437.5,70.4 437.8,70.4 438.1,63.2 438.4,65.4 438.7,66.8 439.0,63.5 439.3,66.0 439.6,66.5 439.9,61.2 440.2,62.0 440.5,63.2 440.8,64.6 441.1,62.5 441.4,61.4 441.7,57.9 442.0,58.8 442.3,58.3 442.6,56.2 442.9,57.4 443.2,55.5 443.5,54.7 443.8,58.9 444.1,54.4 444.4,57.9 444.7,53.8 445.0,54.4 445.3,52.5 445.6,54.1 445.9,58.4 446.2,56.0 446.5,53.0 446.8,59.8 447.1,56.3 447.4,57.9 447.7,59.4 448.0,56.9 448.3,64.4 448.6,65.5 448.9,64.4 449.2,67.6 449.5,68.7 449.8,70.7 450.1,74.1 450.4,74.9 450.7,79.3 451.0,81.2 451.3,87.4 451.6,83.6 451.9,90.4 452.2,92.2 452.5,95.2 452.8,97.9 453.1,104.8 453.4,106.8 453.7,106.7 454.0,108.5 454.3,111.2 454.6,115.9 454.9,114.0 455.2,118.1 455.5,122.9 455.8,123.2 456.1,129.9 456.4,136.4 456.7,138.3 457.0,141.8 457.3,142.4 457.6,147.4 457.9,147.4 458.2,150.5 458.5,153.5 458.8,154.4 459.1,158.6 459.4,160.9 459.7,163.7 460.0,168.0 460.3,170.3 460.6,171.6 460.9,178.5 461.2,180.9 461.5,181.4 461.8,182.8 462.1,186.8 462.4,186.5 462.7,188.1 463.0,189.4 463.3,193.8 463.6,191.6 463.9,190.7 464.2,194.5 464.5,194.6 464.8,194.9 465.1,197.9 465.4,198.3 465.7,200.8 466.0,200.6 466.3,203.2 466.6,204.1 466.9,204.1 467.2,205.9 467.5,207.9 467.8,207.8 468.1,206.7 468.4,209.1 468.7,210.2 469.0,212.1 469.3,211.7 469.6,213.7 469.9,213.4 470.2,214.4 470.5,215.0 470.8,216.0 471.1,216.6 471.4,217.8 471.7,217.5 472.0,217.9 472.3,219.4 472.6,220.2 472.9,220.3 473.2,221.6 473.5,222.2 473.8,223.9 474.1,221.8 474.4,225.3 474.7,222.2 475.0,223.3 475.3,225.5 475.6,225.1 475.9,226.1 476.2,226.5 476.5,226.4 476.8,226.8 477.1,228.1 477.4,229.2 477.7,229.9 478.0,230.0 478.3,230.0 478.6,231.7 478.9,229.4 479.2,231.6 479.5,232.9 479.8,233.6 480.1,233.6 480.4,234.0 480.7,234.1 481.0,233.8 481.3,232.3 481.6,233.8 481.9,234.3 482.2,235.9 482.5,234.6 482.8,234.9 483.1,235.8 483.4,234.8 483.7,235.7 484.0,236.3 484.3,235.8 484.6,236.2 484.9,235.1 485.2,235.7 485.5,236.6 485.8,237.7 486.1,236.6 486.4,236.5 486.7,236.8 487.0,237.9 487.3,236.6 487.6,237.9 487.9,237.6 488.2,238.0 488.5,237.6 488.8,238.3 489.1,239.3 489.4,238.3 489.7,238.2 490.0,236.9 490.3,239.1 490.6,238.5 490.9,239.3 491.2,239.2 491.5,238.7 491.8,238.9 492.1,238.5 492.4,240.9 492.7,240.3 493.0,240.3 493.3,240.7 493.6,240.9 493.9,240.7 494.2,240.9 494.5,242.0 494.8,239.2 495.1,240.7 495.4,240.2 495.7,240.8 496.0,239.1 496.3,240.2 496.6,241.6 496.9,240.3 497.2,241.7 497.5,240.8 497.8,241.4 498.1,240.6 498.4,241.3 498.7,240.8 499.0,242.3 499.3,240.9 499.6,242.3 499.9,241.9 500.2,242.2 500.5,243.4 500.8,242.4 501.1,242.2 501.4,242.7 501.7,243.3 502.0,242.6 502.3,244.1 502.6,243.2 502.9,243.0 503.2,242.8 503.5,243.3 503.8,243.8 504.1,244.2 504.4,243.7 504.7,243.3 505.0,243.7 505.3,242.4 505.6,244.6 505.9,244.5 506.2,243.9 506.5,244.5 506.8,243.5 507.1,245.4 507.4,244.2 507.7,244.1 508.0,245.8 508.3,243.9 508.6,244.8 508.9,244.1 509.2,244.3 509.5,244.6 509.8,244.4 510.1,245.8 510.4,245.6 510.7,244.6 511.0,246.5 511.3,245.0 511.6,244.9 511.9,245.3 512.2,244.5 512.5,246.0 512.8,244.6 513.1,244.4 513.4,245.9 513.7,244.7 514.0,245.2 514.3,244.6 514.6,245.1 514.9,245.5 515.2,243.9 515.5,245.4 515.8,245.0 516.1,246.4 516.4,246.8 516.7,245.9 517.0,246.0 517.3,246.3 517.6,246.3 517.9,244.8 518.2,244.9 518.5,245.4 518.8,244.9 519.1,245.6 519.4,245.9 519.7,245.3 520.0,246.1 520.3,246.8 520.6,245.9 520.9,246.2 521.2,245.9 521.5,245.9 521.8,245.7 522.1,245.3 522.4,246.4 522.7,246.8 523.0,246.1 523.3,246.2 523.6,245.3 523.9,246.0 524.2,246.4 524.5,246.2 524.8,246.3 525.1,245.7 525.4,245.5 525.7,246.2 526.0,247.3 526.3,246.2 526.6,245.5 526.9,246.0 527.2,246.3 527.5,247.2 527.8,247.2 528.1,246.1 528.4,246.0 528.7,246.5 529.0,246.6 529.3,246.1 529.6,247.3 529.9,246.5 530.2,246.9 530.5,246.7 530.8,247.1 531.1,246.8 531.4,247.1 531.7,247.7 532.0,247.1 532.3,247.9 532.6,246.3 532.9,247.0 533.2,246.5 533.5,246.3 533.8,247.2 534.1,248.4 534.4,247.4 534.7,247.9 535.0,246.2 535.3,247.5 535.6,246.7 535.9,247.6 536.2,248.1 536.5,247.2 536.8,248.2 537.1,247.1 537.4,247.6 537.7,247.2 538.0,247.6 538.3,247.5 538.6,246.3 538.9,247.4 539.2,247.3 539.5,248.6 539.8,246.1 540.1,247.7 540.4,248.1 540.7,248.8 541.0,248.4 541.3,247.6 541.6,248.5 541.9,247.5 542.2,247.5 542.5,247.4 542.8,247.4 543.1,248.5 543.4,246.6 543.7,246.7 544.0,248.2 544.3,247.9 544.6,248.1 544.9,247.4 545.2,248.0 545.5,247.4 545.8,247.3 546.1,247.3 546.4,247.7 546.7,247.6 547.0,247.3 547.3,248.5 547.6,247.8 547.9,247.4 548.2,246.8 548.5,247.5 548.8,246.6 549.1,247.0 549.4,246.9 549.7,247.0 550.0,247.6 550.3,245.6 550.6,248.4 550.9,247.8 551.2,247.2 551.5,247.1 551.8,247.9 552.1,247.4 552.4,248.5 552.7,247.4 553.0,246.9 553.3,246.6 553.6,247.4 553.9,248.1 554.2,246.7 554.5,248.2 554.8,248.0 555.1,247.3 555.4,248.2 555.7,246.4 556.0,246.1 556.3,247.6 556.6,247.7 556.9,247.7 557.2,247.4 557.5,246.5 557.8,247.8 558.1,247.2 558.4,248.0 558.7,247.6 559.0,246.7 559.3,247.8 559.6,247.9 559.9,247.9 560.2,247.0 560.5,246.8 560.8,247.9 561.1,247.4 561.4,247.3 561.7,248.0 562.0,248.0 562.3,247.7 562.6,247.2 562.9,248.3 563.2,246.7 563.5,247.4 563.8,247.6 564.1,246.5 564.4,246.9 564.7,247.9 565.0,247.3 565.3,246.7 565.6,248.4 565.9,247.4 566.2,247.4 566.5,248.4 566.8,246.4 567.1,247.0 567.4,246.7 567.7,248.1 568.0,246.8 568.3,248.7 568.6,247.5 568.9,247.4 569.2,247.8 569.5,247.1 569.8,246.6 570.1,246.8 570.4,247.2 570.7,246.5 571.0,247.2 571.3,246.7 571.6,247.0 571.9,247.0 572.2,248.0 572.5,248.5 572.8,248.2 573.1,247.0 573.4,246.6 573.7,247.7 574.0,247.8 574.3,247.6 574.6,246.6 574.9,247.2 575.2,246.8 575.5,247.6 575.8,247.5 576.1,247.0 576.4,246.6 576.7,247.9 577.0,246.9 577.3,247.3 577.6,247.1 577.9,247.2 578.2,247.4 578.5,246.5 578.8,246.4 579.1,247.0 579.4,244.6 579.7,246.5 580.0,246.2 580.3,246.9 580.6,246.7 580.9,246.3 581.2,245.6 581.5,246.2 581.8,246.1 582.1,246.3 582.4,246.3 582.7,245.7 583.0,246.4 583.3,245.7 583.6,246.2 583.9,246.0 584.2,246.6 584.5,245.7 584.8,246.7 585.1,245.4 585.4,245.0 585.7,245.8 586.0,244.6 586.3,245.5 586.6,245.5 586.9,245.2 587.2,245.3 587.5,245.1 587.8,245.7 588.1,244.7 588.4,243.5 588.7,244.4 589.0,245.1 589.3,245.1 589.6,244.9 589.9,244.4 590.2,243.7 590.5,245.2 590.8,243.7 591.1,243.3 591.4,242.3 591.7,245.1 592.0,243.7 592.3,242.4 592.6,244.1 592.9,243.9 593.2,242.2 593.5,243.7 593.8,243.1 594.1,243.4 594.4,243.8 594.7,242.5 595.0,244.1 595.3,242.5 595.6,242.1 595.9,243.2 596.2,241.8 596.5,241.9 596.8,242.6 597.1,241.3 597.4,240.9 597.7,241.9 598.0,241.6 598.3,241.2 598.6,242.1 598.9,240.6 599.2,241.8 599.5,240.5 599.8,241.4 600.1,240.2 600.4,241.4 600.7,240.9 601.0,240.6 601.3,240.9 601.6,240.6 601.9,241.3 602.2,240.2 602.5,240.9 602.8,240.3 603.1,240.1 603.4,240.1 603.7,239.6 604.0,240.6 604.3,240.4 604.6,240.5 604.9,239.1 605.2,239.9 605.5,241.2 605.8,240.9 606.1,240.0 606.4,240.0 606.7,240.1 607.0,240.7 607.3,241.0 607.6,240.1 607.9,240.1 608.2,239.8 608.5,240.1 608.8,241.0 609.1,239.3 609.4,240.2 609.7,238.9 610.0,238.9 610.3,238.5 610.6,239.2 610.9,240.6 611.2,240.7 611.5,240.1 611.8,239.5 612.1,240.2 612.4,238.7 612.7,238.4 613.0,238.8 613.3,239.2 613.6,238.0 613.9,238.7 614.2,240.4 614.5,239.1 614.8,238.9 615.1,238.7 615.4,239.6 615.7,239.5 616.0,239.1 616.3,238.9 616.6,237.4 616.9,237.9 617.2,238.6 617.5,238.4 617.8,238.6 618.1,238.4 618.4,239.9 618.7,239.4 619.0,237.8 619.3,239.1 619.6,238.8 619.9,238.4 620.2,238.2 620.5,238.6 620.8,239.6 621.1,237.9 621.4,238.1 621.7,238.1 622.0,236.9 622.3,238.1 622.6,237.4 622.9,238.1 623.2,238.2 623.5,239.1 623.8,237.6 624.1,237.5 624.4,238.2 624.7,239.0 625.0,237.7 625.3,237.8 625.6,237.8 625.9,237.7 626.2,236.9 626.5,236.7 626.8,236.7 627.1,236.8 627.4,237.3 627.7,236.4 628.0,236.3 628.3,236.8 628.6,236.7 628.9,236.8 629.2,235.7 629.5,237.9 629.8,236.3 630.1,236.2 630.4,235.7 630.7,236.6 631.0,236.9 631.3,236.1 631.6,236.0 631.9,235.8 632.2,237.5 632.5,236.2 632.8,235.4 633.1,235.8 633.4,236.4 633.7,235.7 634.0,235.7 634.3,235.5 634.6,235.2 634.9,235.7 635.2,236.4 635.5,235.5 635.8,234.8 636.1,234.3 636.4,234.8 636.7,234.4 637.0,234.1 637.3,235.1 637.6,234.8 637.9,235.3 638.2,234.7 638.5,234.0 638.8,234.9 639.1,234.4 639.4,235.1 639.7,233.2 640.0,233.6 640.3,233.8 640.6,234.9 640.9,234.0 641.2,232.7 641.5,232.8 641.8,233.7 642.1,232.1 642.4,232.6 642.7,233.0 643.0,232.7 643.3,233.1 643.6,233.4 643.9,232.9 644.2,231.6 644.5,233.5 644.8,233.2 645.1,231.7 645.4,231.9 645.7,231.1 646.0,233.1 646.3,231.6 646.6,232.1 646.9,232.1 647.2,232.6 647.5,231.6 647.8,231.2 648.1,231.8 648.4,232.0 648.7,230.8 649.0,231.0 649.3,229.9 649.6,232.0 649.9,230.3 650.2,231.5 650.5,231.3 650.8,231.2 651.1,231.2 651.4,229.8 651.7,230.5 652.0,229.7 652.3,230.1 652.6,229.5 652.9,231.9 653.2,230.1 653.5,230.7 653.8,229.3 654.1,231.2 654.4,229.6 654.7,229.5 655.0,229.4 655.3,228.3 655.6,227.9 655.9,229.5 656.2,228.5 656.5,229.1 656.8,230.7 657.1,228.9 657.4,230.6 657.7,229.2 658.0,228.0 658.3,229.3 658.6,229.6 658.9,229.3 659.2,228.1 659.5,227.7 659.8,229.2 660.1,229.9 660.4,229.7 660.7,228.0 661.0,228.0 661.3,228.4 661.6,229.0 661.9,228.4 662.2,228.3 662.5,227.9 662.8,225.7 663.1,226.8 663.4,227.8 663.7,226.4 664.0,229.2 664.3,226.9 664.6,228.0 664.9,228.2 665.2,228.3 665.5,226.4 665.8,227.1 666.1,228.4 666.4,227.2 666.7,227.7 667.0,225.0 667.3,227.3 667.6,227.0 667.9,226.7 668.2,225.4 668.5,226.1 668.8,226.5 669.1,226.3 669.4,225.7 669.7,227.4 670.0,227.3 670.3,226.2 670.6,227.6 670.9,225.4 671.2,226.6 671.5,227.7 671.8,226.8 672.1,226.1 672.4,226.6 672.7,226.1 673.0,225.7 673.3,225.5 673.6,226.1 673.9,226.0 674.2,226.3 674.5,225.4 674.8,226.3 675.1,226.8 675.4,225.5 675.7,227.3 676.0,225.4 676.3,225.4 676.6,225.5 676.9,224.9 677.2,224.7 677.5,225.0 677.8,225.7 678.1,225.2 678.4,227.1 678.7,225.7 679.0,225.5 679.3,225.4 679.6,226.2 679.9,225.9 680.2,226.1 680.5,226.5 680.8,227.1 681.1,225.1 681.4,226.4 681.7,225.9 682.0,226.1 682.3,225.4 682.6,226.3 682.9,226.3 683.2,226.1 683.5,225.2 683.8,226.4 684.1,225.0 684.4,224.6 684.7,226.5 685.0,225.7 685.3,224.5 685.6,225.2 685.9,225.8 686.2,226.6 686.5,225.7 686.8,225.3 687.1,225.1 687.4,225.0 687.7,226.1 688.0,225.6 688.3,226.8 688.6,225.9 688.9,227.4 689.2,226.5 689.5,226.8 689.8,226.9 690.1,227.0 690.4,228.5 690.7,226.8 691.0,227.1 691.3,227.5 691.6,228.4 691.9,227.2 692.2,229.3 692.5,227.6 692.8,228.1" fill="none" stroke="#ff00ff" stroke-width="1.8" stroke-linejoin="round" />
</g>
<rect x="309.7" y="15.0" width="383.8" height="256.4" fill="none" stroke="#000" stroke-width="1.9"/>
<line x1="309.70" y1="271.4" x2="309.70" y2="276.5" stroke="#000" stroke-width="1.6"/>
<line x1="337.11" y1="271.4" x2="337.11" y2="274.7" stroke="#000" stroke-width="1.6"/>
<text x="309.70" y="287.7" text-anchor="middle" font-size="11.5" font-weight="bold">5</text>
<line x1="364.53" y1="271.4" x2="364.53" y2="276.5" stroke="#000" stroke-width="1.6"/>
<line x1="391.94" y1="271.4" x2="391.94" y2="274.7" stroke="#000" stroke-width="1.6"/>
<text x="364.53" y="287.7" text-anchor="middle" font-size="11.5" font-weight="bold">10</text>
<line x1="419.36" y1="271.4" x2="419.36" y2="276.5" stroke="#000" stroke-width="1.6"/>
<line x1="446.77" y1="271.4" x2="446.77" y2="274.7" stroke="#000" stroke-width="1.6"/>
<text x="419.36" y="287.7" text-anchor="middle" font-size="11.5" font-weight="bold">15</text>
<line x1="474.19" y1="271.4" x2="474.19" y2="276.5" stroke="#000" stroke-width="1.6"/>
<line x1="501.60" y1="271.4" x2="501.60" y2="274.7" stroke="#000" stroke-width="1.6"/>
<text x="474.19" y="287.7" text-anchor="middle" font-size="11.5" font-weight="bold">20</text>
<line x1="529.02" y1="271.4" x2="529.02" y2="276.5" stroke="#000" stroke-width="1.6"/>
<line x1="556.43" y1="271.4" x2="556.43" y2="274.7" stroke="#000" stroke-width="1.6"/>
<text x="529.02" y="287.7" text-anchor="middle" font-size="11.5" font-weight="bold">25</text>
<line x1="583.85" y1="271.4" x2="583.85" y2="276.5" stroke="#000" stroke-width="1.6"/>
<line x1="611.26" y1="271.4" x2="611.26" y2="274.7" stroke="#000" stroke-width="1.6"/>
<text x="583.85" y="287.7" text-anchor="middle" font-size="11.5" font-weight="bold">30</text>
<line x1="638.68" y1="271.4" x2="638.68" y2="276.5" stroke="#000" stroke-width="1.6"/>
<line x1="666.09" y1="271.4" x2="666.09" y2="274.7" stroke="#000" stroke-width="1.6"/>
<text x="638.68" y="287.7" text-anchor="middle" font-size="11.5" font-weight="bold">35</text>
<line x1="693.51" y1="271.4" x2="693.51" y2="276.5" stroke="#000" stroke-width="1.6"/>
<text x="693.51" y="287.7" text-anchor="middle" font-size="11.5" font-weight="bold">40</text>
<line x1="309.7" y1="271.60" x2="304.2" y2="271.60" stroke="#000" stroke-width="1.6"/>
<text x="301" y="275.00" text-anchor="end" font-size="12" font-weight="bold">0</text>
<line x1="309.7" y1="248.29" x2="306.2" y2="248.29" stroke="#000" stroke-width="1.6"/>
<line x1="309.7" y1="224.98" x2="304.2" y2="224.98" stroke="#000" stroke-width="1.6"/>
<text x="301" y="228.38" text-anchor="end" font-size="12" font-weight="bold">2000</text>
<line x1="309.7" y1="201.67" x2="306.2" y2="201.67" stroke="#000" stroke-width="1.6"/>
<line x1="309.7" y1="178.36" x2="304.2" y2="178.36" stroke="#000" stroke-width="1.6"/>
<text x="301" y="181.76" text-anchor="end" font-size="12" font-weight="bold">4000</text>
<line x1="309.7" y1="155.05" x2="306.2" y2="155.05" stroke="#000" stroke-width="1.6"/>
<line x1="309.7" y1="131.74" x2="304.2" y2="131.74" stroke="#000" stroke-width="1.6"/>
<text x="301" y="135.14" text-anchor="end" font-size="12" font-weight="bold">6000</text>
<line x1="309.7" y1="108.43" x2="306.2" y2="108.43" stroke="#000" stroke-width="1.6"/>
<line x1="309.7" y1="85.12" x2="304.2" y2="85.12" stroke="#000" stroke-width="1.6"/>
<text x="301" y="88.52" text-anchor="end" font-size="12" font-weight="bold">8000</text>
<line x1="309.7" y1="61.81" x2="306.2" y2="61.81" stroke="#000" stroke-width="1.6"/>
<line x1="309.7" y1="38.50" x2="304.2" y2="38.50" stroke="#000" stroke-width="1.6"/>
<text x="301" y="41.90" text-anchor="end" font-size="12" font-weight="bold">10000</text>
<text x="501.3" y="308.1" text-anchor="middle" font-size="14.2" font-weight="bold">2Theta</text>
<text transform="translate(268,138.6) rotate(-90)" text-anchor="middle" font-size="14" font-weight="bold">Intensity</text>
<rect x="312.5" y="18" width="108.5" height="60" fill="#fff" stroke="#888" stroke-width="1"/>
<line x1="317.4" y1="27.3" x2="339.7" y2="27.3" stroke="#000000" stroke-width="1.6"/>
<text x="343" y="31.5" font-size="12" font-weight="bold">Nafion-212</text>
<line x1="317.4" y1="42.0" x2="339.7" y2="42.0" stroke="#ff0000" stroke-width="1.6"/>
<text x="343" y="46.2" font-size="12" font-weight="bold">N-PDA</text>
<line x1="317.4" y1="56.7" x2="339.7" y2="56.7" stroke="#0000ff" stroke-width="1.6"/>
<text x="343" y="60.9" font-size="12" font-weight="bold">N-P(DA-SDA)</text>
<line x1="317.4" y1="71.4" x2="339.7" y2="71.4" stroke="#ff00ff" stroke-width="1.6"/>
<text x="343" y="75.6" font-size="12" font-weight="bold">N-PSDA</text>
<line x1="446.2" y1="20.6" x2="446.2" y2="30.5" stroke="#222" stroke-width="0.9"/>
<polygon points="446.2,34.5 444.4,29.5 448.0,29.5" fill="#222"/>
<line x1="424.8" y1="70.8" x2="424.8" y2="81.7" stroke="#222" stroke-width="0.9"/>
<polygon points="424.8,85.7 423.0,80.7 426.6,80.7" fill="#222"/>
<line x1="677.4" y1="207.5" x2="677.4" y2="217.2" stroke="#222" stroke-width="0.9"/>
<polygon points="677.4,221.2 675.6,216.2 679.1999999999999,216.2" fill="#222"/>
<rect x="511" y="21" width="175" height="121.8" fill="#fff" stroke="#5a5a5a" stroke-width="1.3"/>
<polyline points="511.0,117.9 511.3,119.7 511.6,114.6 511.9,120.0 512.2,117.4 512.5,119.0 512.8,116.3 513.1,115.9 513.4,117.2 513.7,118.9 514.0,118.5 514.3,118.6 514.6,115.1 514.9,115.3 515.2,120.1 515.5,119.3 515.8,121.2 516.1,119.7 516.4,116.2 516.7,119.8 517.0,118.8 517.3,118.2 517.6,116.6 517.9,117.9 518.2,117.7 518.5,119.4 518.8,118.2 519.1,120.5 519.4,116.8 519.7,118.8 520.0,118.8 520.3,115.3 520.6,116.3 520.9,119.7 521.2,118.9 521.5,117.9 521.8,118.7 522.1,117.1 522.4,118.5 522.7,117.2 523.0,118.5 523.3,119.7 523.6,117.7 523.9,119.5 524.2,116.6 524.5,117.8 524.8,116.1 525.1,118.1 525.4,118.4 525.7,117.9 526.0,117.8 526.3,120.3 526.6,120.5 526.9,116.4 527.2,120.1 527.5,115.6 527.8,117.1 528.1,118.0 528.4,118.5 528.7,116.7 529.0,117.2 529.3,118.4 529.6,117.2 529.9,117.3 530.2,119.3 530.5,119.7 530.8,118.2 531.1,118.3 531.4,118.3 531.7,117.6 532.0,117.5 532.3,116.7 532.6,119.3 532.9,118.1 533.2,118.1 533.5,118.6 533.8,119.1 534.1,118.7 534.4,117.8 534.7,117.6 535.0,118.5 535.3,116.9 535.6,120.1 535.9,119.6 536.2,119.2 536.5,117.9 536.8,119.2 537.1,119.7 537.4,118.8 537.7,117.6 538.0,115.4 538.3,119.4 538.6,117.4 538.9,116.6 539.2,119.3 539.5,118.4 539.8,115.7 540.1,119.3 540.4,117.4 540.7,119.3 541.0,114.8 541.3,117.1 541.6,117.5 541.9,119.8 542.2,115.9 542.5,113.0 542.8,115.4 543.1,117.9 543.4,118.7 543.7,120.1 544.0,118.0 544.3,116.1 544.6,118.7 544.9,117.3 545.2,117.0 545.5,117.3 545.8,119.2 546.1,115.7 546.4,115.5 546.7,116.9 547.0,116.9 547.3,115.6 547.6,115.5 547.9,117.3 548.2,118.7 548.5,117.7 548.8,117.6 549.1,118.4 549.4,113.2 549.7,113.9 550.0,115.0 550.3,114.2 550.6,114.4 550.9,115.9 551.2,113.7 551.5,114.9 551.8,112.4 552.1,113.9 552.4,117.4 552.7,114.3 553.0,115.6 553.3,116.1 553.6,114.1 553.9,115.6 554.2,116.9 554.5,115.6 554.8,113.4 555.1,112.0 555.4,112.6 555.7,113.2 556.0,114.7 556.3,113.5 556.6,113.1 556.9,113.3 557.2,115.2 557.5,112.5 557.8,115.6 558.1,111.2 558.4,111.5 558.7,114.2 559.0,113.6 559.3,111.4 559.6,112.5 559.9,111.4 560.2,113.8 560.5,113.2 560.8,111.2 561.1,112.8 561.4,111.5 561.7,111.9 562.0,112.0 562.3,110.9 562.6,112.4 562.9,112.4 563.2,107.3 563.5,113.2 563.8,111.0 564.1,109.0 564.4,110.1 564.7,111.5 565.0,111.1 565.3,111.9 565.6,112.2 565.9,110.7 566.2,110.6 566.5,109.2 566.8,112.2 567.1,110.1 567.4,108.8 567.7,108.6 568.0,109.7 568.3,112.6 568.6,111.3 568.9,107.4 569.2,109.8 569.5,110.3 569.8,110.8 570.1,110.3 570.4,108.7 570.7,110.2 571.0,108.6 571.3,105.9 571.6,108.2 571.9,108.2 572.2,110.6 572.5,110.7 572.8,107.4 573.1,109.2 573.4,108.9 573.7,106.5 574.0,105.4 574.3,107.1 574.6,108.6 574.9,107.4 575.2,104.0 575.5,108.1 575.8,107.1 576.1,106.5 576.4,107.3 576.7,106.0 577.0,108.5 577.3,107.5 577.6,106.5 577.9,107.7 578.2,107.1 578.5,104.7 578.8,106.7 579.1,106.1 579.4,104.0 579.7,105.5 580.0,107.0 580.3,105.3 580.6,108.3 580.9,108.5 581.2,105.3 581.5,106.4 581.8,108.5 582.1,104.7 582.4,103.7 582.7,104.2 583.0,102.6 583.3,102.4 583.6,104.7 583.9,103.5 584.2,104.3 584.5,104.5 584.8,102.4 585.1,103.1 585.4,102.8 585.7,102.0 586.0,101.5 586.3,103.2 586.6,102.3 586.9,102.8 587.2,103.7 587.5,103.5 587.8,100.1 588.1,100.3 588.4,101.1 588.7,101.5 589.0,102.6 589.3,99.5 589.6,102.4 589.9,101.1 590.2,102.5 590.5,102.6 590.8,98.8 591.1,99.9 591.4,98.9 591.7,101.3 592.0,100.6 592.3,99.8 592.6,98.7 592.9,100.0 593.2,101.0 593.5,98.2 593.8,98.8 594.1,99.3 594.4,99.1 594.7,99.5 595.0,97.3 595.3,97.9 595.6,95.4 595.9,98.7 596.2,100.2 596.5,95.2 596.8,97.3 597.1,99.6 597.4,97.9 597.7,95.1 598.0,99.8 598.3,95.7 598.6,103.0 598.9,96.8 599.2,96.5 599.5,97.6 599.8,97.4 600.1,98.3 600.4,98.1 600.7,97.0 601.0,99.2 601.3,98.1 601.6,97.3 601.9,97.0 602.2,96.6 602.5,96.5 602.8,97.6 603.1,97.2 603.4,96.4 603.7,97.8 604.0,93.8 604.3,96.7 604.6,97.3 604.9,94.1 605.2,95.3 605.5,98.2 605.8,94.1 606.1,97.2 606.4,93.7 606.7,95.8 607.0,93.4 607.3,94.0 607.6,94.3 607.9,93.9 608.2,96.1 608.5,95.7 608.8,95.7 609.1,94.5 609.4,96.6 609.7,95.5 610.0,94.2 610.3,91.9 610.6,94.5 610.9,94.2 611.2,93.2 611.5,94.0 611.8,93.9 612.1,92.0 612.4,93.2 612.7,92.7 613.0,92.4 613.3,91.2 613.6,90.8 613.9,91.5 614.2,93.3 614.5,94.5 614.8,90.1 615.1,88.9 615.4,89.8 615.7,88.8 616.0,89.2 616.3,90.2 616.6,88.0 616.9,90.1 617.2,90.2 617.5,91.6 617.8,91.3 618.1,89.8 618.4,89.4 618.7,87.1 619.0,88.0 619.3,87.7 619.6,87.8 619.9,88.5 620.2,86.2 620.5,89.1 620.8,88.2 621.1,86.6 621.4,86.6 621.7,84.1 622.0,81.5 622.3,85.0 622.6,85.5 622.9,85.1 623.2,82.8 623.5,83.6 623.8,86.8 624.1,85.3 624.4,84.7 624.7,83.1 625.0,84.5 625.3,85.1 625.6,84.1 625.9,82.1 626.2,83.0 626.5,81.1 626.8,81.8 627.1,83.0 627.4,81.1 627.7,81.4 628.0,83.8 628.3,81.2 628.6,82.5 628.9,80.7 629.2,79.2 629.5,80.8 629.8,80.1 630.1,77.4 630.4,78.5 630.7,79.6 631.0,82.4 631.3,79.1 631.6,79.8 631.9,80.6 632.2,80.0 632.5,78.9 632.8,81.9 633.1,81.2 633.4,75.2 633.7,79.2 634.0,79.5 634.3,80.1 634.6,78.6 634.9,79.6 635.2,81.1 635.5,80.7 635.8,80.6 636.1,79.4 636.4,79.0 636.7,78.9 637.0,75.6 637.3,79.1 637.6,77.4 637.9,77.4 638.2,76.9 638.5,77.3 638.8,73.2 639.1,76.6 639.4,70.0 639.7,74.4 640.0,72.9 640.3,73.0 640.6,76.3 640.9,74.5 641.2,74.9 641.5,74.7 641.8,73.0 642.1,73.5 642.4,72.5 642.7,73.7 643.0,70.6 643.3,73.3 643.6,75.1 643.9,75.4 644.2,75.9 644.5,73.9 644.8,71.4 645.1,74.2 645.4,73.4 645.7,72.9 646.0,70.4 646.3,72.7 646.6,74.1 646.9,73.0 647.2,71.3 647.5,72.3 647.8,71.3 648.1,71.5 648.4,72.3 648.7,71.4 649.0,71.1 649.3,71.2 649.6,69.2 649.9,68.8 650.2,71.0 650.5,69.2 650.8,70.8 651.1,67.0 651.4,71.6 651.7,69.5 652.0,72.1 652.3,65.6 652.6,66.7 652.9,71.4 653.2,69.3 653.5,69.5 653.8,69.1 654.1,69.0 654.4,69.5 654.7,67.0 655.0,68.2 655.3,70.4 655.6,68.6 655.9,67.2 656.2,68.2 656.5,71.6 656.8,67.6 657.1,67.5 657.4,68.5 657.7,68.9 658.0,69.8 658.3,67.2 658.6,67.8 658.9,68.8 659.2,64.2 659.5,67.2 659.8,67.6 660.1,66.6 660.4,65.3 660.7,67.5 661.0,68.4 661.3,66.2 661.6,65.5 661.9,65.8 662.2,68.4 662.5,67.8 662.8,65.8 663.1,64.0 663.4,63.6 663.7,64.9 664.0,64.8 664.3,65.6 664.6,63.3 664.9,64.8 665.2,65.7 665.5,62.2 665.8,68.2 666.1,65.4 666.4,63.3 666.7,62.3 667.0,62.7 667.3,66.0 667.6,65.4 667.9,60.2 668.2,65.6 668.5,64.9 668.8,64.6 669.1,61.9 669.4,63.9 669.7,62.5 670.0,64.2 670.3,66.1 670.6,64.2 670.9,64.7 671.2,62.6 671.5,64.5 671.8,63.0 672.1,64.5 672.4,65.1 672.7,62.7 673.0,63.2 673.3,62.1 673.6,60.0 673.9,62.8 674.2,63.2 674.5,62.0 674.8,62.3 675.1,59.8 675.4,62.7 675.7,64.7 676.0,62.5 676.3,63.5 676.6,69.5 676.9,61.4 677.2,62.9 677.5,61.4 677.8,67.2 678.1,63.0 678.4,61.0 678.7,60.4 679.0,65.1 679.3,63.8 679.6,63.5 679.9,60.8 680.2,62.1 680.5,61.2 680.8,64.8 681.1,62.3 681.4,66.2 681.7,64.1 682.0,62.9 682.3,65.5 682.6,60.3 682.9,62.3 683.2,63.0 683.5,65.4 683.8,65.5 684.1,64.5 684.4,61.3 684.7,63.3 685.0,62.5 685.3,66.3 685.6,63.7 685.9,65.4" fill="none" stroke="#000000" stroke-width="0.9" stroke-linejoin="round" />
<polyline points="511.0,120.7 511.3,121.1 511.6,121.0 511.9,122.1 512.2,125.4 512.5,120.7 512.8,124.7 513.1,125.3 513.4,122.8 513.7,122.3 514.0,124.2 514.3,125.4 514.6,126.9 514.9,124.9 515.2,126.2 515.5,123.0 515.8,122.4 516.1,121.2 516.4,122.1 516.7,123.4 517.0,124.3 517.3,122.0 517.6,125.3 517.9,123.9 518.2,123.1 518.5,123.0 518.8,126.8 519.1,124.5 519.4,122.9 519.7,122.8 520.0,127.2 520.3,123.5 520.6,126.3 520.9,126.7 521.2,120.9 521.5,126.6 521.8,124.2 522.1,122.9 522.4,123.8 522.7,125.5 523.0,125.2 523.3,125.3 523.6,123.6 523.9,126.7 524.2,127.8 524.5,127.6 524.8,126.3 525.1,127.8 525.4,128.1 525.7,125.9 526.0,126.2 526.3,125.8 526.6,125.8 526.9,126.2 527.2,122.3 527.5,124.4 527.8,125.7 528.1,121.7 528.4,122.7 528.7,127.4 529.0,123.3 529.3,124.3 529.6,125.6 529.9,124.3 530.2,121.2 530.5,124.2 530.8,124.3 531.1,124.1 531.4,125.3 531.7,127.2 532.0,125.5 532.3,127.5 532.6,126.1 532.9,126.3 533.2,125.9 533.5,124.5 533.8,125.6 534.1,125.4 534.4,123.2 534.7,126.1 535.0,125.8 535.3,125.5 535.6,124.0 535.9,120.8 536.2,127.1 536.5,124.7 536.8,121.4 537.1,125.8 537.4,123.7 537.7,125.8 538.0,124.6 538.3,126.4 538.6,125.0 538.9,125.1 539.2,124.8 539.5,126.5 539.8,122.5 540.1,126.4 540.4,125.6 540.7,123.6 541.0,124.4 541.3,123.7 541.6,124.5 541.9,125.8 542.2,123.3 542.5,125.4 542.8,125.7 543.1,125.2 543.4,126.6 543.7,123.6 544.0,125.2 544.3,127.9 544.6,124.0 544.9,123.8 545.2,124.0 545.5,124.8 545.8,122.9 546.1,123.4 546.4,121.0 546.7,122.1 547.0,122.0 547.3,125.5 547.6,122.7 547.9,124.4 548.2,122.7 548.5,121.1 548.8,123.4 549.1,122.3 549.4,120.6 549.7,122.9 550.0,120.9 550.3,121.5 550.6,120.8 550.9,123.5 551.2,120.8 551.5,121.4 551.8,122.1 552.1,123.2 552.4,123.3 552.7,119.8 553.0,123.0 553.3,121.5 553.6,122.8 553.9,122.4 554.2,119.8 554.5,120.5 554.8,119.9 555.1,120.8 555.4,122.6 555.7,120.0 556.0,118.7 556.3,123.6 556.6,118.0 556.9,119.4 557.2,119.2 557.5,117.1 557.8,120.2 558.1,120.5 558.4,118.6 558.7,118.7 559.0,118.3 559.3,115.7 559.6,118.7 559.9,114.7 560.2,116.7 560.5,118.7 560.8,119.4 561.1,116.5 561.4,119.6 561.7,120.5 562.0,117.9 562.3,117.4 562.6,117.8 562.9,116.8 563.2,116.0 563.5,118.3 563.8,118.3 564.1,116.3 564.4,116.4 564.7,116.0 565.0,115.8 565.3,115.3 565.6,114.4 565.9,118.1 566.2,116.1 566.5,116.7 566.8,119.3 567.1,115.7 567.4,117.3 567.7,114.2 568.0,115.3 568.3,117.3 568.6,115.7 568.9,113.9 569.2,113.6 569.5,116.5 569.8,121.4 570.1,116.9 570.4,116.2 570.7,115.2 571.0,115.5 571.3,116.7 571.6,115.5 571.9,114.0 572.2,115.9 572.5,114.7 572.8,114.9 573.1,116.0 573.4,115.6 573.7,115.7 574.0,114.6 574.3,114.2 574.6,114.3 574.9,115.3 575.2,113.4 575.5,114.0 575.8,113.2 576.1,113.2 576.4,114.0 576.7,117.9 577.0,113.5 577.3,114.4 577.6,114.1 577.9,113.6 578.2,113.8 578.5,116.6 578.8,113.1 579.1,115.8 579.4,114.3 579.7,111.8 580.0,112.0 580.3,112.2 580.6,111.1 580.9,114.3 581.2,113.1 581.5,113.1 581.8,110.6 582.1,112.6 582.4,111.0 582.7,115.3 583.0,111.3 583.3,111.7 583.6,111.7 583.9,110.2 584.2,110.1 584.5,109.9 584.8,111.6 585.1,109.0 585.4,109.7 585.7,110.3 586.0,109.0 586.3,107.4 586.6,107.5 586.9,108.5 587.2,107.5 587.5,110.2 587.8,108.6 588.1,108.4 588.4,106.8 588.7,108.9 589.0,107.5 589.3,106.4 589.6,105.2 589.9,111.2 590.2,106.6 590.5,106.1 590.8,109.8 591.1,108.3 591.4,106.7 591.7,109.1 592.0,101.3 592.3,106.1 592.6,102.6 592.9,108.7 593.2,106.6 593.5,110.3 593.8,107.1 594.1,107.0 594.4,104.5 594.7,104.3 595.0,105.3 595.3,101.6 595.6,104.3 595.9,102.2 596.2,107.0 596.5,107.0 596.8,104.2 597.1,106.1 597.4,107.1 597.7,107.1 598.0,102.9 598.3,105.3 598.6,103.9 598.9,106.5 599.2,105.1 599.5,103.1 599.8,105.0 600.1,105.6 600.4,102.3 600.7,102.5 601.0,103.5 601.3,104.0 601.6,103.5 601.9,101.5 602.2,101.9 602.5,104.1 602.8,104.7 603.1,102.7 603.4,104.2 603.7,106.7 604.0,103.5 604.3,103.0 604.6,102.6 604.9,104.3 605.2,103.8 605.5,106.3 605.8,102.7 606.1,103.8 606.4,103.8 606.7,102.8 607.0,104.7 607.3,100.5 607.6,103.8 607.9,102.5 608.2,103.8 608.5,105.3 608.8,102.4 609.1,101.9 609.4,102.1 609.7,104.1 610.0,104.2 610.3,102.0 610.6,102.6 610.9,104.2 611.2,102.2 611.5,98.9 611.8,99.8 612.1,100.2 612.4,101.4 612.7,99.8 613.0,102.6 613.3,99.6 613.6,102.5 613.9,99.0 614.2,101.8 614.5,99.9 614.8,101.6 615.1,102.3 615.4,101.8 615.7,100.5 616.0,97.6 616.3,97.3 616.6,93.5 616.9,100.5 617.2,100.0 617.5,99.4 617.8,95.9 618.1,101.7 618.4,96.2 618.7,98.4 619.0,94.4 619.3,95.8 619.6,98.4 619.9,97.9 620.2,94.4 620.5,92.9 620.8,97.4 621.1,92.7 621.4,96.5 621.7,92.7 622.0,95.9 622.3,94.3 622.6,96.0 622.9,93.5 623.2,93.6 623.5,93.3 623.8,92.2 624.1,87.2 624.4,91.7 624.7,89.4 625.0,93.9 625.3,92.2 625.6,94.1 625.9,93.4 626.2,93.4 626.5,90.2 626.8,92.4 627.1,93.8 627.4,92.8 627.7,93.1 628.0,93.4 628.3,88.5 628.6,91.5 628.9,91.3 629.2,90.0 629.5,88.0 629.8,91.1 630.1,89.4 630.4,92.5 630.7,91.3 631.0,88.5 631.3,87.3 631.6,87.4 631.9,85.9 632.2,87.2 632.5,91.2 632.8,86.1 633.1,87.6 633.4,87.8 633.7,88.0 634.0,85.7 634.3,86.6 634.6,87.1 634.9,87.1 635.2,85.5 635.5,85.8 635.8,86.4 636.1,90.8 636.4,83.9 636.7,86.7 637.0,87.9 637.3,83.1 637.6,87.4 637.9,87.2 638.2,85.0 638.5,85.2 638.8,86.9 639.1,84.2 639.4,84.7 639.7,82.6 640.0,83.0 640.3,84.1 640.6,83.7 640.9,86.3 641.2,83.3 641.5,81.7 641.8,84.8 642.1,84.8 642.4,83.9 642.7,82.9 643.0,81.8 643.3,79.3 643.6,85.2 643.9,84.0 644.2,82.8 644.5,83.2 644.8,81.9 645.1,81.0 645.4,81.6 645.7,82.1 646.0,79.6 646.3,79.8 646.6,79.2 646.9,81.1 647.2,82.6 647.5,79.5 647.8,79.7 648.1,78.8 648.4,80.5 648.7,79.2 649.0,79.4 649.3,79.1 649.6,84.1 649.9,80.4 650.2,79.4 650.5,79.6 650.8,81.5 651.1,81.5 651.4,80.3 651.7,76.7 652.0,81.0 652.3,81.0 652.6,80.4 652.9,79.8 653.2,79.0 653.5,80.5 653.8,78.1 654.1,80.0 654.4,77.5 654.7,77.5 655.0,77.2 655.3,76.9 655.6,76.9 655.9,78.7 656.2,79.8 656.5,76.2 656.8,74.0 657.1,79.0 657.4,76.5 657.7,77.4 658.0,77.1 658.3,78.2 658.6,75.4 658.9,78.4 659.2,77.8 659.5,75.6 659.8,76.2 660.1,75.8 660.4,77.6 660.7,76.2 661.0,76.7 661.3,75.6 661.6,76.6 661.9,76.0 662.2,75.7 662.5,79.3 662.8,76.6 663.1,74.0 663.4,75.9 663.7,76.1 664.0,74.0 664.3,75.7 664.6,74.1 664.9,72.0 665.2,75.9 665.5,76.2 665.8,76.2 666.1,74.9 666.4,74.2 666.7,75.4 667.0,75.7 667.3,76.4 667.6,77.0 667.9,76.1 668.2,74.0 668.5,74.7 668.8,72.6 669.1,75.8 669.4,75.6 669.7,76.5 670.0,75.4 670.3,77.0 670.6,73.5 670.9,75.1 671.2,74.2 671.5,74.2 671.8,71.8 672.1,73.3 672.4,74.7 672.7,73.9 673.0,73.3 673.3,74.6 673.6,71.5 673.9,73.5 674.2,73.9 674.5,70.8 674.8,76.8 675.1,75.0 675.4,73.1 675.7,77.1 676.0,76.3 676.3,70.5 676.6,73.8 676.9,73.3 677.2,74.4 677.5,72.9 677.8,74.0 678.1,74.6 678.4,70.7 678.7,72.8 679.0,76.8 679.3,76.9 679.6,79.3 679.9,77.3 680.2,75.4 680.5,75.6 680.8,75.7 681.1,74.5 681.4,78.8 681.7,76.1 682.0,76.4 682.3,74.8 682.6,78.0 682.9,73.8 683.2,74.4 683.5,76.3 683.8,77.0 684.1,74.4 684.4,74.3 684.7,77.7 685.0,77.8 685.3,76.3 685.6,76.5 685.9,76.1" fill="none" stroke="#ff0000" stroke-width="0.9" stroke-linejoin="round" />
<polyline points="511.0,118.9 511.3,118.4 511.6,118.0 511.9,114.5 512.2,118.8 512.5,114.9 512.8,119.6 513.1,119.2 513.4,119.6 513.7,119.6 514.0,118.8 514.3,117.5 514.6,117.9 514.9,120.7 515.2,117.5 515.5,118.1 515.8,117.4 516.1,117.7 516.4,118.1 516.7,118.9 517.0,118.1 517.3,118.0 517.6,117.7 517.9,118.8 518.2,116.6 518.5,118.8 518.8,120.7 519.1,117.5 519.4,118.7 519.7,123.1 520.0,117.2 520.3,116.3 520.6,118.1 520.9,121.6 521.2,122.0 521.5,116.9 521.8,119.7 522.1,118.9 522.4,117.9 522.7,115.9 523.0,120.5 523.3,117.6 523.6,119.4 523.9,119.0 524.2,121.8 524.5,120.7 524.8,117.1 525.1,118.5 525.4,120.6 525.7,116.9 526.0,118.3 526.3,119.3 526.6,116.5 526.9,117.1 527.2,116.3 527.5,119.4 527.8,118.1 528.1,120.4 528.4,119.2 528.7,119.9 529.0,118.9 529.3,120.2 529.6,118.8 529.9,117.5 530.2,120.8 530.5,120.5 530.8,122.5 531.1,118.8 531.4,118.1 531.7,116.8 532.0,113.0 532.3,117.0 532.6,119.7 532.9,117.6 533.2,114.9 533.5,119.9 533.8,118.0 534.1,118.4 534.4,118.3 534.7,118.7 535.0,119.6 535.3,116.2 535.6,118.5 535.9,118.1 536.2,120.6 536.5,117.2 536.8,121.3 537.1,119.7 537.4,121.3 537.7,116.3 538.0,120.0 538.3,119.2 538.6,116.3 538.9,118.2 539.2,117.9 539.5,117.1 539.8,117.4 540.1,116.3 540.4,117.8 540.7,119.0 541.0,117.2 541.3,116.0 541.6,120.0 541.9,117.8 542.2,118.4 542.5,117.9 542.8,117.4 543.1,119.1 543.4,117.4 543.7,118.2 544.0,115.9 544.3,115.5 544.6,116.3 544.9,121.0 545.2,118.3 545.5,120.9 545.8,118.6 546.1,118.5 546.4,116.9 546.7,117.7 547.0,120.4 547.3,119.4 547.6,116.6 547.9,116.7 548.2,119.4 548.5,116.5 548.8,118.6 549.1,115.7 549.4,118.0 549.7,119.3 550.0,118.1 550.3,117.1 550.6,116.9 550.9,116.4 551.2,116.4 551.5,118.2 551.8,118.0 552.1,116.7 552.4,114.0 552.7,115.1 553.0,116.2 553.3,115.7 553.6,113.4 553.9,116.5 554.2,119.3 554.5,113.3 554.8,115.2 555.1,118.4 555.4,114.2 555.7,114.1 556.0,114.9 556.3,115.4 556.6,113.7 556.9,115.8 557.2,111.2 557.5,115.1 557.8,114.5 558.1,113.6 558.4,114.3 558.7,110.4 559.0,115.6 559.3,112.7 559.6,113.3 559.9,111.1 560.2,111.4 560.5,112.7 560.8,110.5 561.1,111.6 561.4,110.7 561.7,111.9 562.0,112.8 562.3,114.0 562.6,109.4 562.9,112.0 563.2,113.6 563.5,114.3 563.8,114.3 564.1,112.8 564.4,111.1 564.7,112.7 565.0,113.2 565.3,111.5 565.6,112.0 565.9,111.9 566.2,110.3 566.5,111.6 566.8,115.5 567.1,110.7 567.4,113.0 567.7,106.7 568.0,110.5 568.3,113.5 568.6,112.2 568.9,113.0 569.2,110.9 569.5,108.8 569.8,109.7 570.1,112.8 570.4,107.5 570.7,108.8 571.0,107.5 571.3,109.3 571.6,109.4 571.9,110.8 572.2,108.6 572.5,112.4 572.8,110.7 573.1,108.8 573.4,107.9 573.7,107.1 574.0,109.5 574.3,112.3 574.6,108.9 574.9,107.4 575.2,108.8 575.5,108.0 575.8,107.3 576.1,105.7 576.4,108.4 576.7,110.7 577.0,110.2 577.3,109.7 577.6,108.4 577.9,108.7 578.2,109.4 578.5,107.7 578.8,108.1 579.1,106.9 579.4,109.1 579.7,105.8 580.0,108.2 580.3,108.3 580.6,108.1 580.9,107.7 581.2,105.8 581.5,105.4 581.8,105.5 582.1,105.4 582.4,104.1 582.7,104.9 583.0,104.4 583.3,103.8 583.6,105.7 583.9,103.7 584.2,105.1 584.5,106.8 584.8,107.0 585.1,104.2 585.4,105.6 585.7,104.2 586.0,107.4 586.3,106.0 586.6,105.0 586.9,102.9 587.2,102.6 587.5,103.6 587.8,102.6 588.1,102.1 588.4,103.4 588.7,100.2 589.0,98.9 589.3,100.3 589.6,99.9 589.9,101.4 590.2,100.1 590.5,99.5 590.8,98.0 591.1,103.4 591.4,101.6 591.7,99.5 592.0,101.2 592.3,102.5 592.6,101.8 592.9,101.1 593.2,101.3 593.5,101.6 593.8,98.2 594.1,97.7 594.4,99.4 594.7,101.3 595.0,102.0 595.3,99.8 595.6,101.9 595.9,101.0 596.2,99.2 596.5,98.1 596.8,98.1 597.1,99.2 597.4,101.2 597.7,100.2 598.0,96.8 598.3,96.8 598.6,99.9 598.9,100.5 599.2,97.0 599.5,99.4 599.8,100.4 600.1,99.4 600.4,98.3 600.7,96.9 601.0,97.3 601.3,96.9 601.6,96.3 601.9,100.6 602.2,100.9 602.5,97.4 602.8,98.3 603.1,98.0 603.4,98.7 603.7,99.0 604.0,98.1 604.3,96.8 604.6,96.0 604.9,95.1 605.2,92.5 605.5,96.3 605.8,95.1 606.1,96.3 606.4,96.0 606.7,94.4 607.0,95.1 607.3,96.4 607.6,95.9 607.9,94.2 608.2,94.2 608.5,96.2 608.8,95.5 609.1,95.5 609.4,94.6 609.7,95.9 610.0,94.7 610.3,98.3 610.6,93.5 610.9,93.0 611.2,96.5 611.5,93.6 611.8,92.3 612.1,94.0 612.4,89.6 612.7,91.5 613.0,92.8 613.3,93.0 613.6,93.9 613.9,93.8 614.2,92.5 614.5,91.8 614.8,92.1 615.1,90.1 615.4,91.0 615.7,88.6 616.0,89.0 616.3,91.0 616.6,90.5 616.9,91.2 617.2,88.8 617.5,89.5 617.8,88.4 618.1,89.6 618.4,90.2 618.7,90.4 619.0,89.4 619.3,87.1 619.6,88.4 619.9,86.3 620.2,84.7 620.5,87.7 620.8,87.3 621.1,88.1 621.4,88.0 621.7,84.6 622.0,84.9 622.3,86.1 622.6,86.0 622.9,86.3 623.2,83.5 623.5,84.9 623.8,86.1 624.1,87.8 624.4,82.7 624.7,87.0 625.0,83.8 625.3,81.9 625.6,86.0 625.9,82.1 626.2,81.7 626.5,84.5 626.8,84.8 627.1,83.1 627.4,81.7 627.7,80.4 628.0,82.7 628.3,78.7 628.6,80.0 628.9,83.7 629.2,82.9 629.5,83.6 629.8,82.2 630.1,79.7 630.4,82.0 630.7,78.4 631.0,82.1 631.3,83.0 631.6,79.2 631.9,82.2 632.2,80.5 632.5,80.1 632.8,77.1 633.1,79.8 633.4,81.2 633.7,77.1 634.0,78.9 634.3,78.4 634.6,76.8 634.9,80.8 635.2,79.1 635.5,79.0 635.8,80.3 636.1,77.5 636.4,83.5 636.7,77.6 637.0,76.4 637.3,79.1 637.6,78.5 637.9,76.3 638.2,76.2 638.5,78.8 638.8,80.8 639.1,77.8 639.4,78.4 639.7,76.0 640.0,78.7 640.3,76.6 640.6,77.5 640.9,74.8 641.2,77.3 641.5,76.4 641.8,79.6 642.1,75.4 642.4,77.8 642.7,76.2 643.0,77.5 643.3,75.3 643.6,75.5 643.9,71.1 644.2,72.4 644.5,75.9 644.8,74.7 645.1,75.1 645.4,73.3 645.7,74.8 646.0,72.9 646.3,73.2 646.6,75.0 646.9,74.6 647.2,72.1 647.5,72.7 647.8,72.9 648.1,72.1 648.4,72.0 648.7,70.6 649.0,72.8 649.3,70.2 649.6,70.2 649.9,73.5 650.2,74.3 650.5,74.8 650.8,71.8 651.1,70.3 651.4,72.2 651.7,73.3 652.0,71.0 652.3,70.1 652.6,63.6 652.9,67.9 653.2,73.1 653.5,68.1 653.8,69.2 654.1,69.7 654.4,70.5 654.7,68.0 655.0,70.8 655.3,70.7 655.6,69.9 655.9,68.7 656.2,69.0 656.5,66.5 656.8,70.4 657.1,68.5 657.4,67.1 657.7,69.1 658.0,69.8 658.3,69.5 658.6,69.8 658.9,70.5 659.2,67.8 659.5,68.8 659.8,68.8 660.1,66.0 660.4,69.8 660.7,67.5 661.0,68.3 661.3,68.3 661.6,66.4 661.9,68.8 662.2,68.9 662.5,67.6 662.8,62.7 663.1,69.2 663.4,66.7 663.7,65.8 664.0,65.8 664.3,64.9 664.6,65.9 664.9,67.3 665.2,64.5 665.5,66.5 665.8,65.1 666.1,65.5 666.4,65.2 666.7,66.2 667.0,67.1 667.3,61.4 667.6,66.8 667.9,68.7 668.2,62.9 668.5,66.3 668.8,64.5 669.1,64.6 669.4,66.3 669.7,64.4 670.0,63.7 670.3,66.5 670.6,66.1 670.9,65.0 671.2,68.7 671.5,62.8 671.8,61.7 672.1,63.8 672.4,62.3 672.7,64.6 673.0,63.1 673.3,63.0 673.6,63.9 673.9,62.6 674.2,60.9 674.5,62.7 674.8,64.9 675.1,64.2 675.4,65.2 675.7,66.4 676.0,65.2 676.3,67.3 676.6,62.7 676.9,64.5 677.2,66.6 677.5,66.1 677.8,65.3 678.1,62.7 678.4,64.8 678.7,63.4 679.0,65.9 679.3,62.1 679.6,63.0 679.9,64.3 680.2,64.3 680.5,63.3 680.8,65.0 681.1,63.9 681.4,66.1 681.7,63.7 682.0,64.8 682.3,61.3 682.6,64.9 682.9,63.7 683.2,65.9 683.5,64.6 683.8,66.8 684.1,64.2 684.4,62.9 684.7,65.6 685.0,66.2 685.3,64.2 685.6,63.5 685.9,66.7" fill="none" stroke="#0000ff" stroke-width="0.9" stroke-linejoin="round" />
<polyline points="511.0,112.8 511.3,109.1 511.6,106.9 511.9,108.5 512.2,108.3 512.5,108.6 512.8,109.5 513.1,107.2 513.4,110.7 513.7,107.6 514.0,109.1 514.3,110.9 514.6,110.6 514.9,108.6 515.2,112.5 515.5,110.4 515.8,108.4 516.1,110.0 516.4,108.8 516.7,110.8 517.0,108.1 517.3,111.0 517.6,107.6 517.9,112.1 518.2,109.4 518.5,112.6 518.8,109.5 519.1,107.4 519.4,108.6 519.7,110.4 520.0,113.9 520.3,111.8 520.6,113.0 520.9,109.7 521.2,110.3 521.5,110.6 521.8,113.0 522.1,110.4 522.4,110.8 522.7,113.8 523.0,110.0 523.3,111.4 523.6,109.4 523.9,111.1 524.2,112.8 524.5,113.4 524.8,109.5 525.1,107.7 525.4,112.5 525.7,114.3 526.0,110.7 526.3,112.2 526.6,111.8 526.9,108.5 527.2,107.7 527.5,111.8 527.8,112.7 528.1,109.6 528.4,111.4 528.7,110.7 529.0,110.5 529.3,110.0 529.6,113.8 529.9,112.0 530.2,111.6 530.5,111.2 530.8,112.6 531.1,111.2 531.4,112.2 531.7,110.8 532.0,114.3 532.3,111.5 532.6,112.8 532.9,109.5 533.2,110.7 533.5,110.0 533.8,114.3 534.1,110.9 534.4,111.7 534.7,109.1 535.0,110.3 535.3,109.1 535.6,111.6 535.9,110.2 536.2,114.1 536.5,110.3 536.8,113.2 537.1,111.4 537.4,112.4 537.7,110.1 538.0,111.5 538.3,111.3 538.6,110.3 538.9,112.3 539.2,109.1 539.5,111.1 539.8,111.1 540.1,111.5 540.4,109.5 540.7,112.3 541.0,109.9 541.3,110.3 541.6,109.7 541.9,110.6 542.2,111.7 542.5,115.6 542.8,107.0 543.1,112.5 543.4,111.9 543.7,113.3 544.0,111.4 544.3,111.7 544.6,113.7 544.9,111.1 545.2,111.2 545.5,110.8 545.8,111.5 546.1,113.5 546.4,109.3 546.7,112.5 547.0,107.0 547.3,111.3 547.6,109.9 547.9,112.4 548.2,111.7 548.5,111.6 548.8,111.2 549.1,110.7 549.4,107.0 549.7,110.5 550.0,107.9 550.3,111.5 550.6,108.8 550.9,109.7 551.2,108.9 551.5,109.7 551.8,109.3 552.1,105.2 552.4,107.4 552.7,111.6 553.0,107.4 553.3,108.7 553.6,104.7 553.9,109.3 554.2,110.2 554.5,110.5 554.8,109.3 555.1,109.2 555.4,107.3 555.7,107.6 556.0,107.8 556.3,108.3 556.6,106.3 556.9,107.3 557.2,108.6 557.5,107.9 557.8,107.4 558.1,106.2 558.4,107.9 558.7,107.6 559.0,109.5 559.3,107.2 559.6,108.6 559.9,104.9 560.2,109.6 560.5,104.7 560.8,106.5 561.1,106.0 561.4,105.6 561.7,105.9 562.0,105.4 562.3,106.3 562.6,106.5 562.9,107.8 563.2,107.8 563.5,108.5 563.8,106.5 564.1,104.4 564.4,109.2 564.7,106.3 565.0,101.5 565.3,106.5 565.6,105.0 565.9,104.0 566.2,108.8 566.5,105.0 566.8,103.6 567.1,105.1 567.4,104.4 567.7,104.3 568.0,105.1 568.3,104.9 568.6,106.7 568.9,104.9 569.2,102.6 569.5,104.0 569.8,106.5 570.1,106.4 570.4,102.4 570.7,104.6 571.0,102.8 571.3,103.0 571.6,100.9 571.9,100.6 572.2,102.6 572.5,103.3 572.8,103.6 573.1,101.4 573.4,102.2 573.7,102.7 574.0,104.8 574.3,97.9 574.6,100.5 574.9,102.1 575.2,102.8 575.5,100.3 575.8,103.2 576.1,96.9 576.4,103.3 576.7,100.1 577.0,101.1 577.3,96.9 577.6,99.0 577.9,100.2 578.2,100.6 578.5,98.7 578.8,101.5 579.1,99.5 579.4,100.1 579.7,98.7 580.0,98.6 580.3,99.4 580.6,97.2 580.9,100.1 581.2,96.9 581.5,99.3 581.8,96.7 582.1,98.0 582.4,97.0 582.7,99.8 583.0,100.3 583.3,96.8 583.6,98.0 583.9,97.4 584.2,98.0 584.5,98.3 584.8,99.3 585.1,96.4 585.4,93.2 585.7,96.9 586.0,95.0 586.3,95.2 586.6,97.2 586.9,97.4 587.2,95.0 587.5,96.6 587.8,95.2 588.1,95.6 588.4,93.9 588.7,96.1 589.0,92.9 589.3,93.8 589.6,95.0 589.9,91.9 590.2,93.8 590.5,93.8 590.8,94.3 591.1,95.5 591.4,89.5 591.7,94.1 592.0,93.1 592.3,94.2 592.6,93.3 592.9,91.1 593.2,91.2 593.5,90.4 593.8,93.8 594.1,90.8 594.4,92.1 594.7,91.2 595.0,88.2 595.3,90.8 595.6,90.9 595.9,93.4 596.2,90.7 596.5,89.2 596.8,90.0 597.1,92.0 597.4,91.6 597.7,91.4 598.0,91.6 598.3,89.2 598.6,91.8 598.9,90.8 599.2,86.9 599.5,89.1 599.8,92.1 600.1,89.1 600.4,89.3 600.7,89.8 601.0,89.9 601.3,89.6 601.6,90.4 601.9,88.3 602.2,87.1 602.5,89.2 602.8,89.1 603.1,90.6 603.4,90.7 603.7,89.7 604.0,90.2 604.3,91.4 604.6,90.0 604.9,89.7 605.2,87.1 605.5,87.8 605.8,87.1 606.1,87.6 606.4,89.7 606.7,89.0 607.0,87.9 607.3,84.3 607.6,88.5 607.9,88.3 608.2,85.5 608.5,87.3 608.8,86.6 609.1,87.9 609.4,83.6 609.7,84.6 610.0,88.5 610.3,84.7 610.6,84.9 610.9,85.3 611.2,86.2 611.5,87.7 611.8,85.4 612.1,86.8 612.4,85.9 612.7,84.1 613.0,87.4 613.3,86.3 613.6,83.9 613.9,84.0 614.2,82.5 614.5,81.2 614.8,83.5 615.1,85.3 615.4,79.9 615.7,82.2 616.0,86.2 616.3,85.4 616.6,81.2 616.9,81.4 617.2,84.5 617.5,80.5 617.8,81.8 618.1,80.4 618.4,82.2 618.7,81.6 619.0,84.0 619.3,79.2 619.6,78.1 619.9,79.9 620.2,80.7 620.5,79.6 620.8,83.8 621.1,78.8 621.4,79.1 621.7,80.7 622.0,81.8 622.3,79.1 622.6,79.7 622.9,76.4 623.2,76.7 623.5,78.5 623.8,79.0 624.1,78.5 624.4,78.3 624.7,78.5 625.0,77.0 625.3,76.3 625.6,76.2 625.9,74.4 626.2,75.2 626.5,74.8 626.8,76.9 627.1,79.6 627.4,76.8 627.7,78.6 628.0,73.9 628.3,74.4 628.6,71.5 628.9,76.6 629.2,77.8 629.5,75.9 629.8,75.0 630.1,74.4 630.4,71.5 630.7,74.5 631.0,74.3 631.3,73.4 631.6,71.9 631.9,73.2 632.2,72.7 632.5,71.4 632.8,74.3 633.1,72.2 633.4,73.1 633.7,70.1 634.0,71.1 634.3,70.4 634.6,69.7 634.9,71.4 635.2,70.6 635.5,68.9 635.8,69.6 636.1,70.5 636.4,70.2 636.7,73.0 637.0,66.3 637.3,71.1 637.6,70.7 637.9,70.1 638.2,68.0 638.5,67.8 638.8,65.7 639.1,69.3 639.4,67.4 639.7,67.2 640.0,70.5 640.3,66.2 640.6,67.4 640.9,68.3 641.2,66.9 641.5,67.5 641.8,67.0 642.1,66.8 642.4,64.3 642.7,64.0 643.0,67.4 643.3,66.3 643.6,65.0 643.9,63.9 644.2,67.0 644.5,64.0 644.8,62.8 645.1,65.7 645.4,62.2 645.7,63.1 646.0,63.6 646.3,61.4 646.6,63.4 646.9,63.2 647.2,63.4 647.5,61.4 647.8,64.6 648.1,62.0 648.4,61.1 648.7,62.2 649.0,60.7 649.3,57.5 649.6,63.0 649.9,58.2 650.2,57.8 650.5,61.2 650.8,59.5 651.1,62.1 651.4,61.8 651.7,61.8 652.0,59.6 652.3,57.4 652.6,57.7 652.9,60.7 653.2,59.3 653.5,59.1 653.8,59.4 654.1,59.1 654.4,59.6 654.7,60.1 655.0,58.6 655.3,57.9 655.6,56.4 655.9,60.9 656.2,58.8 656.5,57.6 656.8,55.5 657.1,58.7 657.4,55.8 657.7,58.1 658.0,56.9 658.3,55.6 658.6,56.6 658.9,55.5 659.2,53.9 659.5,56.1 659.8,59.4 660.1,57.2 660.4,56.0 660.7,58.3 661.0,55.5 661.3,57.8 661.6,54.2 661.9,54.3 662.2,57.3 662.5,53.8 662.8,57.5 663.1,55.7 663.4,58.5 663.7,54.6 664.0,53.5 664.3,57.7 664.6,54.2 664.9,55.4 665.2,53.6 665.5,56.4 665.8,54.9 666.1,53.1 666.4,54.7 666.7,52.4 667.0,55.6 667.3,52.7 667.6,58.0 667.9,57.8 668.2,51.4 668.5,54.8 668.8,52.7 669.1,52.8 669.4,52.0 669.7,56.2 670.0,50.9 670.3,56.3 670.6,51.1 670.9,54.9 671.2,53.3 671.5,52.6 671.8,52.0 672.1,52.8 672.4,53.8 672.7,55.7 673.0,50.5 673.3,53.7 673.6,52.9 673.9,52.0 674.2,52.9 674.5,53.1 674.8,51.8 675.1,52.3 675.4,53.6 675.7,52.4 676.0,53.7 676.3,51.8 676.6,53.6 676.9,54.0 677.2,54.0 677.5,53.8 677.8,53.5 678.1,53.2 678.4,52.6 678.7,52.7 679.0,54.0 679.3,51.6 679.6,56.5 679.9,52.0 680.2,54.0 680.5,56.3 680.8,57.1 681.1,55.7 681.4,55.0 681.7,52.9 682.0,55.9 682.3,55.1 682.6,53.6 682.9,55.5 683.2,57.9 683.5,57.5 683.8,57.5 684.1,58.5 684.4,58.3 684.7,58.4 685.0,57.8 685.3,58.7 685.6,58.2 685.9,58.2" fill="none" stroke="#ff00ff" stroke-width="0.9" stroke-linejoin="round" />
<rect x="511" y="21" width="175" height="121.8" fill="none" stroke="#5a5a5a" stroke-width="1.3"/>
<line x1="511" y1="142.8" x2="511" y2="145.2" stroke="#444" stroke-width="0.9"/>
<line x1="540" y1="142.8" x2="540" y2="144.4" stroke="#444" stroke-width="0.9"/>
<text x="511" y="150.7" text-anchor="middle" font-size="6.2" fill="#111">25</text>
<line x1="569" y1="142.8" x2="569" y2="145.2" stroke="#444" stroke-width="0.9"/>
<line x1="598" y1="142.8" x2="598" y2="144.4" stroke="#444" stroke-width="0.9"/>
<text x="569" y="150.7" text-anchor="middle" font-size="6.2" fill="#111">30</text>
<line x1="627" y1="142.8" x2="627" y2="145.2" stroke="#444" stroke-width="0.9"/>
<line x1="656" y1="142.8" x2="656" y2="144.4" stroke="#444" stroke-width="0.9"/>
<text x="627" y="150.7" text-anchor="middle" font-size="6.2" fill="#111">35</text>
<line x1="685" y1="142.8" x2="685" y2="145.2" stroke="#444" stroke-width="0.9"/>
<text x="685" y="150.7" text-anchor="middle" font-size="6.2" fill="#111">40</text>
</svg></body></html>
